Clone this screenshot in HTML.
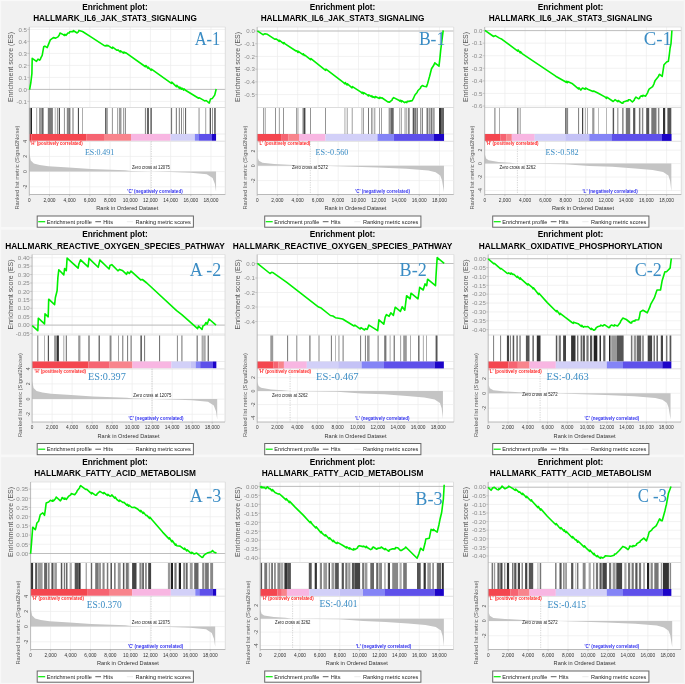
<!DOCTYPE html><html><head><meta charset="utf-8"><style>html,body{margin:0;padding:0;background:#f1f1f1;}svg{display:block;filter:blur(0.25px);}text{font-family:"Liberation Sans", sans-serif;}text.serif{font-family:"Liberation Serif", serif;}</style></head><body>
<svg width="685" height="684" viewBox="0 0 685 684">
<rect x="0" y="0" width="685" height="684" fill="#f1f1f1"/>
<rect x="0" y="227" width="685" height="2.6" fill="#f8f8f8"/>
<rect x="0" y="454.5" width="685" height="2.6" fill="#f8f8f8"/>
<rect x="0" y="0" width="1.2" height="684" fill="#f8f8f8"/>
<rect x="0" y="0" width="685" height="1.1" fill="#f9f9f9"/>
<rect x="0" y="682.9" width="685" height="1.1" fill="#f8f8f8"/>
<rect x="683.6" y="0" width="1.4" height="684" fill="#f6f6f6"/>
<text x="115" y="9.6" text-anchor="middle" font-weight="bold" font-size="8.3" textLength="65.7" lengthAdjust="spacingAndGlyphs" fill="#000">Enrichment plot:</text>
<text x="115" y="21.3" text-anchor="middle" font-weight="bold" font-size="8.3" textLength="163.7" lengthAdjust="spacingAndGlyphs" fill="#000">HALLMARK_IL6_JAK_STAT3_SIGNALING</text>
<rect x="29.3" y="27" width="196" height="167.5" fill="#fff"/>
<line x1="49.49" y1="27" x2="49.49" y2="107.5" stroke="#ececec" stroke-width="0.7"/>
<line x1="49.49" y1="141.3" x2="49.49" y2="194.5" stroke="#ececec" stroke-width="0.7"/>
<line x1="69.68" y1="27" x2="69.68" y2="107.5" stroke="#ececec" stroke-width="0.7"/>
<line x1="69.68" y1="141.3" x2="69.68" y2="194.5" stroke="#ececec" stroke-width="0.7"/>
<line x1="89.87" y1="27" x2="89.87" y2="107.5" stroke="#ececec" stroke-width="0.7"/>
<line x1="89.87" y1="141.3" x2="89.87" y2="194.5" stroke="#ececec" stroke-width="0.7"/>
<line x1="110.06" y1="27" x2="110.06" y2="107.5" stroke="#ececec" stroke-width="0.7"/>
<line x1="110.06" y1="141.3" x2="110.06" y2="194.5" stroke="#ececec" stroke-width="0.7"/>
<line x1="130.24" y1="27" x2="130.24" y2="107.5" stroke="#ececec" stroke-width="0.7"/>
<line x1="130.24" y1="141.3" x2="130.24" y2="194.5" stroke="#ececec" stroke-width="0.7"/>
<line x1="150.43" y1="27" x2="150.43" y2="107.5" stroke="#ececec" stroke-width="0.7"/>
<line x1="150.43" y1="141.3" x2="150.43" y2="194.5" stroke="#ececec" stroke-width="0.7"/>
<line x1="170.62" y1="27" x2="170.62" y2="107.5" stroke="#ececec" stroke-width="0.7"/>
<line x1="170.62" y1="141.3" x2="170.62" y2="194.5" stroke="#ececec" stroke-width="0.7"/>
<line x1="190.81" y1="27" x2="190.81" y2="107.5" stroke="#ececec" stroke-width="0.7"/>
<line x1="190.81" y1="141.3" x2="190.81" y2="194.5" stroke="#ececec" stroke-width="0.7"/>
<line x1="211" y1="27" x2="211" y2="107.5" stroke="#ececec" stroke-width="0.7"/>
<line x1="211" y1="141.3" x2="211" y2="194.5" stroke="#ececec" stroke-width="0.7"/>
<line x1="29.3" y1="29.4" x2="225.3" y2="29.4" stroke="#ececec" stroke-width="0.7"/>
<line x1="27.3" y1="29.4" x2="29.3" y2="29.4" stroke="#b0b0b0" stroke-width="0.6"/>
<text x="26.9" y="31.6" text-anchor="end" font-size="6.1" fill="#8a8a8a">0.5</text>
<line x1="29.3" y1="41.4" x2="225.3" y2="41.4" stroke="#ececec" stroke-width="0.7"/>
<line x1="27.3" y1="41.4" x2="29.3" y2="41.4" stroke="#b0b0b0" stroke-width="0.6"/>
<text x="26.9" y="43.6" text-anchor="end" font-size="6.1" fill="#8a8a8a">0.4</text>
<line x1="29.3" y1="53.4" x2="225.3" y2="53.4" stroke="#ececec" stroke-width="0.7"/>
<line x1="27.3" y1="53.4" x2="29.3" y2="53.4" stroke="#b0b0b0" stroke-width="0.6"/>
<text x="26.9" y="55.6" text-anchor="end" font-size="6.1" fill="#8a8a8a">0.3</text>
<line x1="29.3" y1="65.4" x2="225.3" y2="65.4" stroke="#ececec" stroke-width="0.7"/>
<line x1="27.3" y1="65.4" x2="29.3" y2="65.4" stroke="#b0b0b0" stroke-width="0.6"/>
<text x="26.9" y="67.6" text-anchor="end" font-size="6.1" fill="#8a8a8a">0.2</text>
<line x1="29.3" y1="77.4" x2="225.3" y2="77.4" stroke="#ececec" stroke-width="0.7"/>
<line x1="27.3" y1="77.4" x2="29.3" y2="77.4" stroke="#b0b0b0" stroke-width="0.6"/>
<text x="26.9" y="79.6" text-anchor="end" font-size="6.1" fill="#8a8a8a">0.1</text>
<line x1="29.3" y1="89.4" x2="225.3" y2="89.4" stroke="#ececec" stroke-width="0.7"/>
<line x1="27.3" y1="89.4" x2="29.3" y2="89.4" stroke="#b0b0b0" stroke-width="0.6"/>
<text x="26.9" y="91.6" text-anchor="end" font-size="6.1" fill="#8a8a8a">0.0</text>
<line x1="29.3" y1="101.4" x2="225.3" y2="101.4" stroke="#ececec" stroke-width="0.7"/>
<line x1="27.3" y1="101.4" x2="29.3" y2="101.4" stroke="#b0b0b0" stroke-width="0.6"/>
<text x="26.9" y="103.6" text-anchor="end" font-size="6.1" fill="#8a8a8a">-0.1</text>
<line x1="29.3" y1="89.4" x2="225.3" y2="89.4" stroke="#a8a8a8" stroke-width="0.7"/>
<line x1="29.3" y1="27" x2="225.3" y2="27" stroke="#e0e0e0" stroke-width="0.8"/>
<line x1="225.3" y1="27" x2="225.3" y2="194.5" stroke="#d8d8d8" stroke-width="0.8"/>
<line x1="29.3" y1="107.5" x2="225.3" y2="107.5" stroke="#d4d4d4" stroke-width="0.8"/>
<line x1="29.3" y1="134" x2="225.3" y2="134" stroke="#e0e0e0" stroke-width="0.6"/>
<line x1="29.3" y1="141.3" x2="225.3" y2="141.3" stroke="#d8d8d8" stroke-width="0.8"/>
<rect x="29.2" y="108" width="1.1" height="26" fill="#707070"/>
<rect x="30.5" y="108" width="1.5" height="26" fill="#222"/>
<rect x="36.1" y="108" width="1.1" height="26" fill="#b0b0b0"/>
<rect x="39" y="108" width="3" height="26" fill="#999"/>
<rect x="42" y="108" width="1.6" height="26" fill="#666"/>
<rect x="47.8" y="108" width="5.1" height="26" fill="#7a7a7a"/>
<rect x="54.7" y="108" width="1.1" height="26" fill="#bbb"/>
<rect x="56.9" y="108" width="1.1" height="26" fill="#999"/>
<rect x="58.8" y="108" width="1" height="26" fill="#222"/>
<rect x="63.9" y="108" width="1.1" height="26" fill="#999"/>
<rect x="66.8" y="108" width="1.4" height="26" fill="#888"/>
<rect x="68.2" y="108" width="2.2" height="26" fill="#777"/>
<rect x="72.3" y="108" width="1.4" height="26" fill="#999"/>
<rect x="77.9" y="108" width="0.9" height="26" fill="#222"/>
<rect x="82" y="108" width="0.8" height="26" fill="#999"/>
<rect x="105.1" y="108" width="1.3" height="26" fill="#555"/>
<rect x="106.4" y="108" width="1.3" height="26" fill="#888"/>
<rect x="111.9" y="108" width="0.9" height="26" fill="#888"/>
<rect x="117" y="108" width="1.2" height="26" fill="#aaa"/>
<rect x="119" y="108" width="2.5" height="26" fill="#999"/>
<rect x="123" y="108" width="0.9" height="26" fill="#999"/>
<rect x="124.8" y="108" width="1" height="26" fill="#777"/>
<rect x="144.9" y="108" width="1.2" height="26" fill="#888"/>
<rect x="147.1" y="108" width="1.8" height="26" fill="#555"/>
<rect x="150.4" y="108" width="1.4" height="26" fill="#555"/>
<rect x="170.8" y="108" width="1.3" height="26" fill="#777"/>
<rect x="175.8" y="108" width="1.2" height="26" fill="#888"/>
<rect x="178.8" y="108" width="1.1" height="26" fill="#888"/>
<rect x="181" y="108" width="1" height="26" fill="#888"/>
<rect x="183.2" y="108" width="0.7" height="26" fill="#999"/>
<rect x="185" y="108" width="1.1" height="26" fill="#666"/>
<rect x="198.5" y="108" width="1.1" height="26" fill="#999"/>
<rect x="205.3" y="108" width="0.9" height="26" fill="#999"/>
<rect x="209.7" y="108" width="1.2" height="26" fill="#444"/>
<rect x="212" y="108" width="0.9" height="26" fill="#888"/>
<rect x="214.2" y="108" width="1.5" height="26" fill="#555"/>
<rect x="29.4" y="134" width="2.15" height="6.9" fill="#e02a36"/>
<rect x="31.5" y="134" width="55.05" height="6.9" fill="#f4464f"/>
<rect x="86.5" y="134" width="17.55" height="6.9" fill="#f66472"/>
<rect x="104" y="134" width="27.05" height="6.9" fill="#f8848c"/>
<rect x="131" y="134" width="39.65" height="6.9" fill="#f8b6e2"/>
<rect x="170.6" y="134" width="24.35" height="6.9" fill="#d2d0f8"/>
<rect x="194.9" y="134" width="4.05" height="6.9" fill="#8484f6"/>
<rect x="198.9" y="134" width="13.15" height="6.9" fill="#5e50ea"/>
<rect x="212" y="134" width="4.05" height="6.9" fill="#1c04c8"/>
<line x1="29.3" y1="141.2" x2="225.3" y2="141.2" stroke="#ececec" stroke-width="0.7"/>
<text transform="translate(26.7,141.2) rotate(-90)" text-anchor="middle" font-size="5.2" fill="#555">4</text>
<line x1="29.3" y1="156.4" x2="225.3" y2="156.4" stroke="#ececec" stroke-width="0.7"/>
<text transform="translate(26.7,156.4) rotate(-90)" text-anchor="middle" font-size="5.2" fill="#555">2</text>
<line x1="29.3" y1="171.6" x2="225.3" y2="171.6" stroke="#ececec" stroke-width="0.7"/>
<text transform="translate(26.7,171.6) rotate(-90)" text-anchor="middle" font-size="5.2" fill="#555">0</text>
<line x1="29.3" y1="186.8" x2="225.3" y2="186.8" stroke="#ececec" stroke-width="0.7"/>
<text transform="translate(26.7,186.8) rotate(-90)" text-anchor="middle" font-size="5.2" fill="#555">-2</text>
<polygon points="29.4,171.6 29.4,153.13 30.8,160.43 33.8,163.39 39.6,165.1 48.4,166.28 68.8,167.42 90.7,168.9 125.01,170.2 131,170.99 151.3,171.6 170.31,171.98 190.71,172.82 206.81,174.3 212.61,177.98 214.81,183.76 216.05,191.82 216.05,171.6" fill="#c4c4c4"/>
<line x1="151.3" y1="141.3" x2="151.3" y2="194.5" stroke="#b8b8b8" stroke-width="0.6" stroke-dasharray="1.2,1.2"/>
<text x="132" y="169" font-size="4.6" textLength="38" lengthAdjust="spacingAndGlyphs" fill="#222">Zero cross at 12075</text>
<text x="30.3" y="145" font-size="4.9" font-weight="bold" textLength="52.4" lengthAdjust="spacingAndGlyphs" fill="#ff2a2a">'H' (positively correlated)</text>
<text x="127.3" y="192.7" font-size="4.9" font-weight="bold" textLength="55.4" lengthAdjust="spacingAndGlyphs" fill="#3434f0">'C' (negatively correlated)</text>
<line x1="29.3" y1="27" x2="29.3" y2="194.5" stroke="#a8a8a8" stroke-width="0.8"/>
<line x1="29.3" y1="194.5" x2="225.3" y2="194.5" stroke="#a8a8a8" stroke-width="0.8"/>
<line x1="29.3" y1="194.5" x2="29.3" y2="196.1" stroke="#a8a8a8" stroke-width="0.6"/>
<text x="29.3" y="201.9" text-anchor="middle" font-size="5.4" textLength="2.6" lengthAdjust="spacingAndGlyphs" fill="#333">0</text>
<line x1="49.49" y1="194.5" x2="49.49" y2="196.1" stroke="#a8a8a8" stroke-width="0.6"/>
<text x="49.49" y="201.9" text-anchor="middle" font-size="5.4" textLength="12.2" lengthAdjust="spacingAndGlyphs" fill="#333">2,000</text>
<line x1="69.68" y1="194.5" x2="69.68" y2="196.1" stroke="#a8a8a8" stroke-width="0.6"/>
<text x="69.68" y="201.9" text-anchor="middle" font-size="5.4" textLength="12.2" lengthAdjust="spacingAndGlyphs" fill="#333">4,000</text>
<line x1="89.87" y1="194.5" x2="89.87" y2="196.1" stroke="#a8a8a8" stroke-width="0.6"/>
<text x="89.87" y="201.9" text-anchor="middle" font-size="5.4" textLength="12.2" lengthAdjust="spacingAndGlyphs" fill="#333">6,000</text>
<line x1="110.06" y1="194.5" x2="110.06" y2="196.1" stroke="#a8a8a8" stroke-width="0.6"/>
<text x="110.06" y="201.9" text-anchor="middle" font-size="5.4" textLength="12.2" lengthAdjust="spacingAndGlyphs" fill="#333">8,000</text>
<line x1="130.24" y1="194.5" x2="130.24" y2="196.1" stroke="#a8a8a8" stroke-width="0.6"/>
<text x="130.24" y="201.9" text-anchor="middle" font-size="5.4" textLength="14.8" lengthAdjust="spacingAndGlyphs" fill="#333">10,000</text>
<line x1="150.43" y1="194.5" x2="150.43" y2="196.1" stroke="#a8a8a8" stroke-width="0.6"/>
<text x="150.43" y="201.9" text-anchor="middle" font-size="5.4" textLength="14.8" lengthAdjust="spacingAndGlyphs" fill="#333">12,000</text>
<line x1="170.62" y1="194.5" x2="170.62" y2="196.1" stroke="#a8a8a8" stroke-width="0.6"/>
<text x="170.62" y="201.9" text-anchor="middle" font-size="5.4" textLength="14.8" lengthAdjust="spacingAndGlyphs" fill="#333">14,000</text>
<line x1="190.81" y1="194.5" x2="190.81" y2="196.1" stroke="#a8a8a8" stroke-width="0.6"/>
<text x="190.81" y="201.9" text-anchor="middle" font-size="5.4" textLength="14.8" lengthAdjust="spacingAndGlyphs" fill="#333">16,000</text>
<line x1="211" y1="194.5" x2="211" y2="196.1" stroke="#a8a8a8" stroke-width="0.6"/>
<text x="211" y="201.9" text-anchor="middle" font-size="5.4" textLength="14.8" lengthAdjust="spacingAndGlyphs" fill="#333">18,000</text>
<text x="127.3" y="210.4" text-anchor="middle" font-size="6.0" textLength="62" lengthAdjust="spacingAndGlyphs" fill="#333">Rank in Ordered Dataset</text>
<text transform="translate(12.5,67) rotate(-90)" text-anchor="middle" font-size="6.9" textLength="70" lengthAdjust="spacingAndGlyphs" fill="#555">Enrichment score (ES)</text>
<text transform="translate(18.9,167.5) rotate(-90)" text-anchor="middle" font-size="5.9" textLength="84" lengthAdjust="spacingAndGlyphs" fill="#555">Ranked list metric (Signal2Noise)</text>
<polyline points="29.6,89.7 30.8,82.8 31.9,73.6 32.2,58.3 36.5,61.4 38,59.1 39.6,60.2 40.49,59.1 40.85,57.9 42.2,55.3 43.7,46.8 44.9,46.1 47.2,47.6 50.3,39.9 53.4,37.6 55.7,38.1 58,36.9 59.29,34.97 60,33 63.3,34.6 64.49,35.5 64.85,34.3 66.1,35.3 67.9,33 69.29,32.92 69.65,31.72 71,31.5 72.99,31.77 73.35,30.57 74,31 77.1,33 78.29,31.96 79,30.4 82.5,31.5 90.9,36.9 104.7,45.8 105.79,46.01 106.15,45.23 107.09,46.01 107.8,45.3 112.29,48.35 112.65,47.15 117,50.3 117.95,49.9 120.19,51.98 120.55,50.78 123.49,53.03 123.85,51.95 125,53 125.65,52.59 145.49,66.76 145.85,65.56 147.99,68.36 148.35,67.16 151.09,70.35 151.45,69.15 171.39,83.38 171.75,82.18 176.39,86.59 176.75,85.39 178.6,87.4 179.39,88.32 179.75,87.12 181.49,89.18 181.85,87.98 183.59,90.03 183.95,88.83 185.5,90.2 198.6,98.2 199.45,97.82 204.7,100.9 206.2,100.5 209.3,103.1 210.5,98.9 212.39,98.4 213.1,97.4 214.7,95.1 216.2,89" fill="none" stroke="#00f000" stroke-width="1.6" stroke-linejoin="round"/>
<text x="84.9" y="154.6" class="serif" font-size="8.5" textLength="29.4" lengthAdjust="spacingAndGlyphs" fill="#3a8cc4">ES:0.491</text>
<text x="194.7" y="44.8" class="serif" font-size="17.8" textLength="25.6" lengthAdjust="spacingAndGlyphs" fill="#3a8cc4">A-1</text>
<rect x="37.2" y="216" width="156.2" height="11.2" fill="#fff" stroke="#666" stroke-width="1.0"/>
<line x1="38.2" y1="221.7" x2="45.2" y2="221.7" stroke="#00ee00" stroke-width="1.2"/>
<text x="46.8" y="223.7" font-size="5.7" textLength="45" lengthAdjust="spacingAndGlyphs" fill="#222">Enrichment profile</text>
<line x1="95.3" y1="221.7" x2="101" y2="221.7" stroke="#333" stroke-width="0.8"/>
<text x="103.3" y="223.7" font-size="5.7" textLength="9.7" lengthAdjust="spacingAndGlyphs" fill="#222">Hits</text>
<line x1="126.8" y1="221.7" x2="133" y2="221.7" stroke="#ddd" stroke-width="0.6"/>
<text x="135.6" y="223.7" font-size="5.7" textLength="55.2" lengthAdjust="spacingAndGlyphs" fill="#222">Ranking metric scores</text>
<text x="342.5" y="9.6" text-anchor="middle" font-weight="bold" font-size="8.3" textLength="65.7" lengthAdjust="spacingAndGlyphs" fill="#000">Enrichment plot:</text>
<text x="342.5" y="21.3" text-anchor="middle" font-weight="bold" font-size="8.3" textLength="163.7" lengthAdjust="spacingAndGlyphs" fill="#000">HALLMARK_IL6_JAK_STAT3_SIGNALING</text>
<rect x="257.2" y="27" width="196.5" height="167.5" fill="#fff"/>
<line x1="277.46" y1="27" x2="277.46" y2="107.5" stroke="#ececec" stroke-width="0.7"/>
<line x1="277.46" y1="141.3" x2="277.46" y2="194.5" stroke="#ececec" stroke-width="0.7"/>
<line x1="297.71" y1="27" x2="297.71" y2="107.5" stroke="#ececec" stroke-width="0.7"/>
<line x1="297.71" y1="141.3" x2="297.71" y2="194.5" stroke="#ececec" stroke-width="0.7"/>
<line x1="317.97" y1="27" x2="317.97" y2="107.5" stroke="#ececec" stroke-width="0.7"/>
<line x1="317.97" y1="141.3" x2="317.97" y2="194.5" stroke="#ececec" stroke-width="0.7"/>
<line x1="338.22" y1="27" x2="338.22" y2="107.5" stroke="#ececec" stroke-width="0.7"/>
<line x1="338.22" y1="141.3" x2="338.22" y2="194.5" stroke="#ececec" stroke-width="0.7"/>
<line x1="358.48" y1="27" x2="358.48" y2="107.5" stroke="#ececec" stroke-width="0.7"/>
<line x1="358.48" y1="141.3" x2="358.48" y2="194.5" stroke="#ececec" stroke-width="0.7"/>
<line x1="378.73" y1="27" x2="378.73" y2="107.5" stroke="#ececec" stroke-width="0.7"/>
<line x1="378.73" y1="141.3" x2="378.73" y2="194.5" stroke="#ececec" stroke-width="0.7"/>
<line x1="398.99" y1="27" x2="398.99" y2="107.5" stroke="#ececec" stroke-width="0.7"/>
<line x1="398.99" y1="141.3" x2="398.99" y2="194.5" stroke="#ececec" stroke-width="0.7"/>
<line x1="419.24" y1="27" x2="419.24" y2="107.5" stroke="#ececec" stroke-width="0.7"/>
<line x1="419.24" y1="141.3" x2="419.24" y2="194.5" stroke="#ececec" stroke-width="0.7"/>
<line x1="439.5" y1="27" x2="439.5" y2="107.5" stroke="#ececec" stroke-width="0.7"/>
<line x1="439.5" y1="141.3" x2="439.5" y2="194.5" stroke="#ececec" stroke-width="0.7"/>
<line x1="257.2" y1="31" x2="453.7" y2="31" stroke="#ececec" stroke-width="0.7"/>
<line x1="255.2" y1="31" x2="257.2" y2="31" stroke="#b0b0b0" stroke-width="0.6"/>
<text x="254.8" y="33.2" text-anchor="end" font-size="6.1" fill="#8a8a8a">0.0</text>
<line x1="257.2" y1="43.72" x2="453.7" y2="43.72" stroke="#ececec" stroke-width="0.7"/>
<line x1="255.2" y1="43.72" x2="257.2" y2="43.72" stroke="#b0b0b0" stroke-width="0.6"/>
<text x="254.8" y="45.92" text-anchor="end" font-size="6.1" fill="#8a8a8a">-0.1</text>
<line x1="257.2" y1="56.44" x2="453.7" y2="56.44" stroke="#ececec" stroke-width="0.7"/>
<line x1="255.2" y1="56.44" x2="257.2" y2="56.44" stroke="#b0b0b0" stroke-width="0.6"/>
<text x="254.8" y="58.64" text-anchor="end" font-size="6.1" fill="#8a8a8a">-0.2</text>
<line x1="257.2" y1="69.16" x2="453.7" y2="69.16" stroke="#ececec" stroke-width="0.7"/>
<line x1="255.2" y1="69.16" x2="257.2" y2="69.16" stroke="#b0b0b0" stroke-width="0.6"/>
<text x="254.8" y="71.36" text-anchor="end" font-size="6.1" fill="#8a8a8a">-0.3</text>
<line x1="257.2" y1="81.88" x2="453.7" y2="81.88" stroke="#ececec" stroke-width="0.7"/>
<line x1="255.2" y1="81.88" x2="257.2" y2="81.88" stroke="#b0b0b0" stroke-width="0.6"/>
<text x="254.8" y="84.08" text-anchor="end" font-size="6.1" fill="#8a8a8a">-0.4</text>
<line x1="257.2" y1="94.6" x2="453.7" y2="94.6" stroke="#ececec" stroke-width="0.7"/>
<line x1="255.2" y1="94.6" x2="257.2" y2="94.6" stroke="#b0b0b0" stroke-width="0.6"/>
<text x="254.8" y="96.8" text-anchor="end" font-size="6.1" fill="#8a8a8a">-0.5</text>
<line x1="257.2" y1="31" x2="453.7" y2="31" stroke="#a8a8a8" stroke-width="0.7"/>
<line x1="257.2" y1="27" x2="453.7" y2="27" stroke="#e0e0e0" stroke-width="0.8"/>
<line x1="453.7" y1="27" x2="453.7" y2="194.5" stroke="#d8d8d8" stroke-width="0.8"/>
<line x1="257.2" y1="107.5" x2="453.7" y2="107.5" stroke="#d4d4d4" stroke-width="0.8"/>
<line x1="257.2" y1="134" x2="453.7" y2="134" stroke="#e0e0e0" stroke-width="0.6"/>
<line x1="257.2" y1="141.3" x2="453.7" y2="141.3" stroke="#d8d8d8" stroke-width="0.8"/>
<rect x="263.3" y="108" width="0.7" height="26" fill="#777"/>
<rect x="264.8" y="108" width="0.7" height="26" fill="#777"/>
<rect x="275.2" y="108" width="0.8" height="26" fill="#777"/>
<rect x="278.9" y="108" width="0.7" height="26" fill="#777"/>
<rect x="283.3" y="108" width="0.7" height="26" fill="#666"/>
<rect x="296.1" y="108" width="0.7" height="26" fill="#777"/>
<rect x="297.6" y="108" width="0.7" height="26" fill="#777"/>
<rect x="302.4" y="108" width="1.1" height="26" fill="#999"/>
<rect x="303.5" y="108" width="1.9" height="26" fill="#444"/>
<rect x="310.3" y="108" width="0.7" height="26" fill="#666"/>
<rect x="325.3" y="108" width="0.7" height="26" fill="#666"/>
<rect x="344.6" y="108" width="0.7" height="26" fill="#888"/>
<rect x="346.8" y="108" width="0.7" height="26" fill="#777"/>
<rect x="351.8" y="108" width="0.7" height="26" fill="#777"/>
<rect x="361.6" y="108" width="0.7" height="26" fill="#888"/>
<rect x="363" y="108" width="0.7" height="26" fill="#777"/>
<rect x="368" y="108" width="0.8" height="26" fill="#555"/>
<rect x="371" y="108" width="0.7" height="26" fill="#777"/>
<rect x="372.5" y="108" width="0.7" height="26" fill="#888"/>
<rect x="374.5" y="108" width="0.7" height="26" fill="#666"/>
<rect x="379" y="108" width="0.7" height="26" fill="#777"/>
<rect x="381.1" y="108" width="0.7" height="26" fill="#777"/>
<rect x="388.6" y="108" width="1.9" height="26" fill="#999"/>
<rect x="390.5" y="108" width="3.2" height="26" fill="#666"/>
<rect x="399.5" y="108" width="0.7" height="26" fill="#777"/>
<rect x="401" y="108" width="0.7" height="26" fill="#888"/>
<rect x="404.6" y="108" width="0.9" height="26" fill="#888"/>
<rect x="406.3" y="108" width="0.9" height="26" fill="#999"/>
<rect x="408" y="108" width="1.7" height="26" fill="#888"/>
<rect x="412.7" y="108" width="1.8" height="26" fill="#555"/>
<rect x="414.5" y="108" width="1.5" height="26" fill="#777"/>
<rect x="416.5" y="108" width="1.3" height="26" fill="#666"/>
<rect x="420" y="108" width="0.8" height="26" fill="#888"/>
<rect x="421.7" y="108" width="1.2" height="26" fill="#777"/>
<rect x="426.5" y="108" width="1.5" height="26" fill="#777"/>
<rect x="428.5" y="108" width="1.5" height="26" fill="#999"/>
<rect x="430.5" y="108" width="2" height="26" fill="#777"/>
<rect x="433.2" y="108" width="1.4" height="26" fill="#888"/>
<rect x="439" y="108" width="2" height="26" fill="#333"/>
<rect x="441" y="108" width="3" height="26" fill="#666"/>
<rect x="257.2" y="134" width="23.95" height="6.9" fill="#f4464f"/>
<rect x="281.1" y="134" width="7.45" height="6.9" fill="#f66472"/>
<rect x="288.5" y="134" width="10.55" height="6.9" fill="#f8848c"/>
<rect x="299" y="134" width="26.55" height="6.9" fill="#f8b6e2"/>
<rect x="325.5" y="134" width="52.05" height="6.9" fill="#d2d0f8"/>
<rect x="377.5" y="134" width="16.35" height="6.9" fill="#8484f6"/>
<rect x="393.8" y="134" width="40.25" height="6.9" fill="#5e50ea"/>
<rect x="434" y="134" width="10.05" height="6.9" fill="#1c04c8"/>
<line x1="257.2" y1="151" x2="453.7" y2="151" stroke="#ececec" stroke-width="0.7"/>
<text transform="translate(254.6,151) rotate(-90)" text-anchor="middle" font-size="5.2" fill="#555">2</text>
<line x1="257.2" y1="165.8" x2="453.7" y2="165.8" stroke="#ececec" stroke-width="0.7"/>
<text transform="translate(254.6,165.8) rotate(-90)" text-anchor="middle" font-size="5.2" fill="#555">0</text>
<line x1="257.2" y1="180.6" x2="453.7" y2="180.6" stroke="#ececec" stroke-width="0.7"/>
<text transform="translate(254.6,180.6) rotate(-90)" text-anchor="middle" font-size="5.2" fill="#555">-2</text>
<polygon points="257.8,165.8 257.8,157.73 258.89,160.69 262.49,162.8 274.14,163.9 293.08,165 310.53,165.8 330.17,165.9 377.42,167.4 406.52,168.69 428.36,170.5 435.63,172.31 440.22,175.57 442.01,180.23 443.96,192 443.96,165.8" fill="#c4c4c4"/>
<line x1="310.3" y1="141.3" x2="310.3" y2="194.5" stroke="#b8b8b8" stroke-width="0.6" stroke-dasharray="1.2,1.2"/>
<text x="292" y="169.3" font-size="4.6" textLength="35.8" lengthAdjust="spacingAndGlyphs" fill="#222">Zero cross at 5272</text>
<text x="258.5" y="145.2" font-size="4.9" font-weight="bold" textLength="51.8" lengthAdjust="spacingAndGlyphs" fill="#ff2a2a">'L' (positively correlated)</text>
<text x="355.2" y="192.7" font-size="4.9" font-weight="bold" textLength="54.7" lengthAdjust="spacingAndGlyphs" fill="#3434f0">'C' (negatively correlated)</text>
<line x1="257.2" y1="27" x2="257.2" y2="194.5" stroke="#a8a8a8" stroke-width="0.8"/>
<line x1="257.2" y1="194.5" x2="453.7" y2="194.5" stroke="#a8a8a8" stroke-width="0.8"/>
<line x1="257.2" y1="194.5" x2="257.2" y2="196.1" stroke="#a8a8a8" stroke-width="0.6"/>
<text x="257.2" y="201.9" text-anchor="middle" font-size="5.4" textLength="2.6" lengthAdjust="spacingAndGlyphs" fill="#333">0</text>
<line x1="277.46" y1="194.5" x2="277.46" y2="196.1" stroke="#a8a8a8" stroke-width="0.6"/>
<text x="277.46" y="201.9" text-anchor="middle" font-size="5.4" textLength="12.2" lengthAdjust="spacingAndGlyphs" fill="#333">2,000</text>
<line x1="297.71" y1="194.5" x2="297.71" y2="196.1" stroke="#a8a8a8" stroke-width="0.6"/>
<text x="297.71" y="201.9" text-anchor="middle" font-size="5.4" textLength="12.2" lengthAdjust="spacingAndGlyphs" fill="#333">4,000</text>
<line x1="317.97" y1="194.5" x2="317.97" y2="196.1" stroke="#a8a8a8" stroke-width="0.6"/>
<text x="317.97" y="201.9" text-anchor="middle" font-size="5.4" textLength="12.2" lengthAdjust="spacingAndGlyphs" fill="#333">6,000</text>
<line x1="338.22" y1="194.5" x2="338.22" y2="196.1" stroke="#a8a8a8" stroke-width="0.6"/>
<text x="338.22" y="201.9" text-anchor="middle" font-size="5.4" textLength="12.2" lengthAdjust="spacingAndGlyphs" fill="#333">8,000</text>
<line x1="358.48" y1="194.5" x2="358.48" y2="196.1" stroke="#a8a8a8" stroke-width="0.6"/>
<text x="358.48" y="201.9" text-anchor="middle" font-size="5.4" textLength="14.8" lengthAdjust="spacingAndGlyphs" fill="#333">10,000</text>
<line x1="378.73" y1="194.5" x2="378.73" y2="196.1" stroke="#a8a8a8" stroke-width="0.6"/>
<text x="378.73" y="201.9" text-anchor="middle" font-size="5.4" textLength="14.8" lengthAdjust="spacingAndGlyphs" fill="#333">12,000</text>
<line x1="398.99" y1="194.5" x2="398.99" y2="196.1" stroke="#a8a8a8" stroke-width="0.6"/>
<text x="398.99" y="201.9" text-anchor="middle" font-size="5.4" textLength="14.8" lengthAdjust="spacingAndGlyphs" fill="#333">14,000</text>
<line x1="419.24" y1="194.5" x2="419.24" y2="196.1" stroke="#a8a8a8" stroke-width="0.6"/>
<text x="419.24" y="201.9" text-anchor="middle" font-size="5.4" textLength="14.8" lengthAdjust="spacingAndGlyphs" fill="#333">16,000</text>
<line x1="439.5" y1="194.5" x2="439.5" y2="196.1" stroke="#a8a8a8" stroke-width="0.6"/>
<text x="439.5" y="201.9" text-anchor="middle" font-size="5.4" textLength="14.8" lengthAdjust="spacingAndGlyphs" fill="#333">18,000</text>
<text x="355.45" y="210.4" text-anchor="middle" font-size="6.0" textLength="62" lengthAdjust="spacingAndGlyphs" fill="#333">Rank in Ordered Dataset</text>
<text transform="translate(240,67) rotate(-90)" text-anchor="middle" font-size="6.9" textLength="70" lengthAdjust="spacingAndGlyphs" fill="#555">Enrichment score (ES)</text>
<text transform="translate(246.8,167.5) rotate(-90)" text-anchor="middle" font-size="5.9" textLength="84" lengthAdjust="spacingAndGlyphs" fill="#555">Ranked list metric (Signal2Noise)</text>
<polyline points="257.4,30.9 263.3,34.8 263.95,34.16 264.9,33.8 267.4,34.3 275,39.3 275.95,38.91 278.4,40.5 279.19,41.49 279.55,40.29 283.59,43.66 283.95,42.46 285.1,43.8 296,51 296.85,50.78 297.99,52.53 298.35,51.33 302.89,54.67 303.25,53.77 304.39,55.53 305.2,55.3 310.59,59.73 310.95,58.53 325.59,70.36 325.95,69.16 343,82.1 344.99,83.82 345.35,82.62 347.09,85 347.45,83.8 352.09,87.81 352.45,86.61 361,92.2 361.99,93.07 362.35,92.23 363.39,93.87 363.75,92.67 367.7,95.2 368.39,96 368.75,94.8 371.39,96.72 371.75,95.82 372.89,97.3 373.6,96.9 374.89,97.71 375.25,96.51 379.39,98.43 379.75,97.23 381.1,98.1 381.85,97.73 387.8,101.9 389.59,102.15 390.4,101.4 392.09,100.04 392.45,98.84 393.7,97.6 398.8,100.2 399.89,101.11 400.25,100.21 401.39,101.88 401.75,100.68 404.6,102.6 405.45,101.95 406.79,102.57 407.15,101.37 408.8,101.4 412.2,100.6 413.59,98.22 413.95,97.26 414.7,95.5 415.55,94.17 417.09,92.46 418,90.5 420.39,88.28 420.75,87.14 422.3,85.5 423.9,86.3 426.5,86.8 427.19,84.87 427.55,83.67 429.19,77.63 429.55,76.43 431.5,68.7 433.89,65.01 434.8,62.8 439,66.2 439.99,57.39 440.7,50.2 443.2,30.4" fill="none" stroke="#00f000" stroke-width="1.6" stroke-linejoin="round"/>
<text x="315.6" y="154.8" class="serif" font-size="8.5" textLength="32.8" lengthAdjust="spacingAndGlyphs" fill="#3a8cc4">ES:-0.560</text>
<text x="418.9" y="44.9" class="serif" font-size="17.8" textLength="26.3" lengthAdjust="spacingAndGlyphs" fill="#3a8cc4">B-1</text>
<rect x="264.7" y="216" width="156.2" height="11.2" fill="#fff" stroke="#666" stroke-width="1.0"/>
<line x1="265.7" y1="221.7" x2="272.7" y2="221.7" stroke="#00ee00" stroke-width="1.2"/>
<text x="274.3" y="223.7" font-size="5.7" textLength="45" lengthAdjust="spacingAndGlyphs" fill="#222">Enrichment profile</text>
<line x1="322.8" y1="221.7" x2="328.5" y2="221.7" stroke="#333" stroke-width="0.8"/>
<text x="330.8" y="223.7" font-size="5.7" textLength="9.7" lengthAdjust="spacingAndGlyphs" fill="#222">Hits</text>
<line x1="354.3" y1="221.7" x2="360.5" y2="221.7" stroke="#ddd" stroke-width="0.6"/>
<text x="363.1" y="223.7" font-size="5.7" textLength="55.2" lengthAdjust="spacingAndGlyphs" fill="#222">Ranking metric scores</text>
<text x="570.5" y="9.6" text-anchor="middle" font-weight="bold" font-size="8.3" textLength="65.7" lengthAdjust="spacingAndGlyphs" fill="#000">Enrichment plot:</text>
<text x="570.5" y="21.3" text-anchor="middle" font-weight="bold" font-size="8.3" textLength="163.7" lengthAdjust="spacingAndGlyphs" fill="#000">HALLMARK_IL6_JAK_STAT3_SIGNALING</text>
<rect x="484.7" y="27" width="196.6" height="167.5" fill="#fff"/>
<line x1="504.91" y1="27" x2="504.91" y2="107.5" stroke="#ececec" stroke-width="0.7"/>
<line x1="504.91" y1="141.3" x2="504.91" y2="194.5" stroke="#ececec" stroke-width="0.7"/>
<line x1="525.12" y1="27" x2="525.12" y2="107.5" stroke="#ececec" stroke-width="0.7"/>
<line x1="525.12" y1="141.3" x2="525.12" y2="194.5" stroke="#ececec" stroke-width="0.7"/>
<line x1="545.33" y1="27" x2="545.33" y2="107.5" stroke="#ececec" stroke-width="0.7"/>
<line x1="545.33" y1="141.3" x2="545.33" y2="194.5" stroke="#ececec" stroke-width="0.7"/>
<line x1="565.54" y1="27" x2="565.54" y2="107.5" stroke="#ececec" stroke-width="0.7"/>
<line x1="565.54" y1="141.3" x2="565.54" y2="194.5" stroke="#ececec" stroke-width="0.7"/>
<line x1="585.76" y1="27" x2="585.76" y2="107.5" stroke="#ececec" stroke-width="0.7"/>
<line x1="585.76" y1="141.3" x2="585.76" y2="194.5" stroke="#ececec" stroke-width="0.7"/>
<line x1="605.97" y1="27" x2="605.97" y2="107.5" stroke="#ececec" stroke-width="0.7"/>
<line x1="605.97" y1="141.3" x2="605.97" y2="194.5" stroke="#ececec" stroke-width="0.7"/>
<line x1="626.18" y1="27" x2="626.18" y2="107.5" stroke="#ececec" stroke-width="0.7"/>
<line x1="626.18" y1="141.3" x2="626.18" y2="194.5" stroke="#ececec" stroke-width="0.7"/>
<line x1="646.39" y1="27" x2="646.39" y2="107.5" stroke="#ececec" stroke-width="0.7"/>
<line x1="646.39" y1="141.3" x2="646.39" y2="194.5" stroke="#ececec" stroke-width="0.7"/>
<line x1="666.6" y1="27" x2="666.6" y2="107.5" stroke="#ececec" stroke-width="0.7"/>
<line x1="666.6" y1="141.3" x2="666.6" y2="194.5" stroke="#ececec" stroke-width="0.7"/>
<line x1="484.7" y1="30.6" x2="681.3" y2="30.6" stroke="#ececec" stroke-width="0.7"/>
<line x1="482.7" y1="30.6" x2="484.7" y2="30.6" stroke="#b0b0b0" stroke-width="0.6"/>
<text x="482.3" y="32.8" text-anchor="end" font-size="6.1" fill="#8a8a8a">0.0</text>
<line x1="484.7" y1="43.17" x2="681.3" y2="43.17" stroke="#ececec" stroke-width="0.7"/>
<line x1="482.7" y1="43.17" x2="484.7" y2="43.17" stroke="#b0b0b0" stroke-width="0.6"/>
<text x="482.3" y="45.37" text-anchor="end" font-size="6.1" fill="#8a8a8a">-0.1</text>
<line x1="484.7" y1="55.74" x2="681.3" y2="55.74" stroke="#ececec" stroke-width="0.7"/>
<line x1="482.7" y1="55.74" x2="484.7" y2="55.74" stroke="#b0b0b0" stroke-width="0.6"/>
<text x="482.3" y="57.94" text-anchor="end" font-size="6.1" fill="#8a8a8a">-0.2</text>
<line x1="484.7" y1="68.31" x2="681.3" y2="68.31" stroke="#ececec" stroke-width="0.7"/>
<line x1="482.7" y1="68.31" x2="484.7" y2="68.31" stroke="#b0b0b0" stroke-width="0.6"/>
<text x="482.3" y="70.51" text-anchor="end" font-size="6.1" fill="#8a8a8a">-0.3</text>
<line x1="484.7" y1="80.88" x2="681.3" y2="80.88" stroke="#ececec" stroke-width="0.7"/>
<line x1="482.7" y1="80.88" x2="484.7" y2="80.88" stroke="#b0b0b0" stroke-width="0.6"/>
<text x="482.3" y="83.08" text-anchor="end" font-size="6.1" fill="#8a8a8a">-0.4</text>
<line x1="484.7" y1="93.45" x2="681.3" y2="93.45" stroke="#ececec" stroke-width="0.7"/>
<line x1="482.7" y1="93.45" x2="484.7" y2="93.45" stroke="#b0b0b0" stroke-width="0.6"/>
<text x="482.3" y="95.65" text-anchor="end" font-size="6.1" fill="#8a8a8a">-0.5</text>
<line x1="484.7" y1="106.02" x2="681.3" y2="106.02" stroke="#ececec" stroke-width="0.7"/>
<line x1="482.7" y1="106.02" x2="484.7" y2="106.02" stroke="#b0b0b0" stroke-width="0.6"/>
<text x="482.3" y="108.22" text-anchor="end" font-size="6.1" fill="#8a8a8a">-0.6</text>
<line x1="484.7" y1="30.6" x2="681.3" y2="30.6" stroke="#a8a8a8" stroke-width="0.7"/>
<line x1="484.7" y1="27" x2="681.3" y2="27" stroke="#e0e0e0" stroke-width="0.8"/>
<line x1="681.3" y1="27" x2="681.3" y2="194.5" stroke="#d8d8d8" stroke-width="0.8"/>
<line x1="484.7" y1="107.5" x2="681.3" y2="107.5" stroke="#d4d4d4" stroke-width="0.8"/>
<line x1="484.7" y1="134" x2="681.3" y2="134" stroke="#e0e0e0" stroke-width="0.6"/>
<line x1="484.7" y1="141.3" x2="681.3" y2="141.3" stroke="#d8d8d8" stroke-width="0.8"/>
<rect x="494.4" y="108" width="1" height="26" fill="#777"/>
<rect x="499.2" y="108" width="0.8" height="26" fill="#999"/>
<rect x="517" y="108" width="1.5" height="26" fill="#888"/>
<rect x="519.7" y="108" width="1" height="26" fill="#999"/>
<rect x="565.2" y="108" width="1.3" height="26" fill="#555"/>
<rect x="566.5" y="108" width="1.6" height="26" fill="#888"/>
<rect x="578" y="108" width="1.1" height="26" fill="#888"/>
<rect x="582" y="108" width="1.2" height="26" fill="#444"/>
<rect x="584.9" y="108" width="0.7" height="26" fill="#888"/>
<rect x="587.1" y="108" width="0.7" height="26" fill="#888"/>
<rect x="592.2" y="108" width="2.2" height="26" fill="#999"/>
<rect x="598" y="108" width="0.8" height="26" fill="#aaa"/>
<rect x="606.1" y="108" width="0.7" height="26" fill="#999"/>
<rect x="612.7" y="108" width="1.4" height="26" fill="#555"/>
<rect x="617" y="108" width="1.5" height="26" fill="#aaa"/>
<rect x="622.1" y="108" width="1.5" height="26" fill="#888"/>
<rect x="625.8" y="108" width="4.4" height="26" fill="#777"/>
<rect x="633.1" y="108" width="2.2" height="26" fill="#555"/>
<rect x="638.9" y="108" width="1.5" height="26" fill="#777"/>
<rect x="641.9" y="108" width="1.4" height="26" fill="#888"/>
<rect x="646.2" y="108" width="3" height="26" fill="#555"/>
<rect x="651.3" y="108" width="5.2" height="26" fill="#777"/>
<rect x="657.9" y="108" width="1.5" height="26" fill="#888"/>
<rect x="663" y="108" width="2.2" height="26" fill="#333"/>
<rect x="667.4" y="108" width="3.9" height="26" fill="#555"/>
<rect x="484.7" y="134" width="15.85" height="6.9" fill="#f4464f"/>
<rect x="500.5" y="134" width="5.75" height="6.9" fill="#f66472"/>
<rect x="506.2" y="134" width="5.65" height="6.9" fill="#f8848c"/>
<rect x="511.8" y="134" width="22.95" height="6.9" fill="#f8b6e2"/>
<rect x="534.7" y="134" width="30.55" height="6.9" fill="#d2d0f8"/>
<rect x="565.2" y="134" width="24.15" height="6.9" fill="#c4c2f6"/>
<rect x="589.3" y="134" width="22.65" height="6.9" fill="#8484f6"/>
<rect x="611.9" y="134" width="50.15" height="6.9" fill="#5e50ea"/>
<rect x="662" y="134" width="9.55" height="6.9" fill="#1c04c8"/>
<line x1="484.7" y1="150.16" x2="681.3" y2="150.16" stroke="#ececec" stroke-width="0.7"/>
<text transform="translate(482.1,150.16) rotate(-90)" text-anchor="middle" font-size="5.2" fill="#555">2</text>
<line x1="484.7" y1="163.6" x2="681.3" y2="163.6" stroke="#ececec" stroke-width="0.7"/>
<text transform="translate(482.1,163.6) rotate(-90)" text-anchor="middle" font-size="5.2" fill="#555">0</text>
<line x1="484.7" y1="177.04" x2="681.3" y2="177.04" stroke="#ececec" stroke-width="0.7"/>
<text transform="translate(482.1,177.04) rotate(-90)" text-anchor="middle" font-size="5.2" fill="#555">-2</text>
<line x1="484.7" y1="190.48" x2="681.3" y2="190.48" stroke="#ececec" stroke-width="0.7"/>
<text transform="translate(482.1,190.48) rotate(-90)" text-anchor="middle" font-size="5.2" fill="#555">-4</text>
<polygon points="484.9,163.6 484.9,154.39 486.1,158.56 488.6,160.31 498.6,161.92 510.4,162.73 517.4,163.6 565,164.2 589.49,165.88 612.29,166.83 635.09,168.51 652.59,169.98 663.09,172 668.39,175.49 670.09,180.8 671.35,191.29 671.35,163.6" fill="#c4c4c4"/>
<line x1="517.4" y1="141.3" x2="517.4" y2="194.5" stroke="#b8b8b8" stroke-width="0.6" stroke-dasharray="1.2,1.2"/>
<text x="499.5" y="168.9" font-size="4.6" textLength="36.1" lengthAdjust="spacingAndGlyphs" fill="#222">Zero cross at 3262</text>
<text x="486" y="144.7" font-size="4.9" font-weight="bold" textLength="52.6" lengthAdjust="spacingAndGlyphs" fill="#ff2a2a">'H' (positively correlated)</text>
<text x="582.5" y="192.6" font-size="4.9" font-weight="bold" textLength="55.2" lengthAdjust="spacingAndGlyphs" fill="#3434f0">'L' (negatively correlated)</text>
<line x1="484.7" y1="27" x2="484.7" y2="194.5" stroke="#a8a8a8" stroke-width="0.8"/>
<line x1="484.7" y1="194.5" x2="681.3" y2="194.5" stroke="#a8a8a8" stroke-width="0.8"/>
<line x1="484.7" y1="194.5" x2="484.7" y2="196.1" stroke="#a8a8a8" stroke-width="0.6"/>
<text x="484.7" y="201.9" text-anchor="middle" font-size="5.4" textLength="2.6" lengthAdjust="spacingAndGlyphs" fill="#333">0</text>
<line x1="504.91" y1="194.5" x2="504.91" y2="196.1" stroke="#a8a8a8" stroke-width="0.6"/>
<text x="504.91" y="201.9" text-anchor="middle" font-size="5.4" textLength="12.2" lengthAdjust="spacingAndGlyphs" fill="#333">2,000</text>
<line x1="525.12" y1="194.5" x2="525.12" y2="196.1" stroke="#a8a8a8" stroke-width="0.6"/>
<text x="525.12" y="201.9" text-anchor="middle" font-size="5.4" textLength="12.2" lengthAdjust="spacingAndGlyphs" fill="#333">4,000</text>
<line x1="545.33" y1="194.5" x2="545.33" y2="196.1" stroke="#a8a8a8" stroke-width="0.6"/>
<text x="545.33" y="201.9" text-anchor="middle" font-size="5.4" textLength="12.2" lengthAdjust="spacingAndGlyphs" fill="#333">6,000</text>
<line x1="565.54" y1="194.5" x2="565.54" y2="196.1" stroke="#a8a8a8" stroke-width="0.6"/>
<text x="565.54" y="201.9" text-anchor="middle" font-size="5.4" textLength="12.2" lengthAdjust="spacingAndGlyphs" fill="#333">8,000</text>
<line x1="585.76" y1="194.5" x2="585.76" y2="196.1" stroke="#a8a8a8" stroke-width="0.6"/>
<text x="585.76" y="201.9" text-anchor="middle" font-size="5.4" textLength="14.8" lengthAdjust="spacingAndGlyphs" fill="#333">10,000</text>
<line x1="605.97" y1="194.5" x2="605.97" y2="196.1" stroke="#a8a8a8" stroke-width="0.6"/>
<text x="605.97" y="201.9" text-anchor="middle" font-size="5.4" textLength="14.8" lengthAdjust="spacingAndGlyphs" fill="#333">12,000</text>
<line x1="626.18" y1="194.5" x2="626.18" y2="196.1" stroke="#a8a8a8" stroke-width="0.6"/>
<text x="626.18" y="201.9" text-anchor="middle" font-size="5.4" textLength="14.8" lengthAdjust="spacingAndGlyphs" fill="#333">14,000</text>
<line x1="646.39" y1="194.5" x2="646.39" y2="196.1" stroke="#a8a8a8" stroke-width="0.6"/>
<text x="646.39" y="201.9" text-anchor="middle" font-size="5.4" textLength="14.8" lengthAdjust="spacingAndGlyphs" fill="#333">16,000</text>
<line x1="666.6" y1="194.5" x2="666.6" y2="196.1" stroke="#a8a8a8" stroke-width="0.6"/>
<text x="666.6" y="201.9" text-anchor="middle" font-size="5.4" textLength="14.8" lengthAdjust="spacingAndGlyphs" fill="#333">18,000</text>
<text x="583" y="210.4" text-anchor="middle" font-size="6.0" textLength="62" lengthAdjust="spacingAndGlyphs" fill="#333">Rank in Ordered Dataset</text>
<text transform="translate(468,67) rotate(-90)" text-anchor="middle" font-size="6.9" textLength="70" lengthAdjust="spacingAndGlyphs" fill="#555">Enrichment score (ES)</text>
<text transform="translate(474.3,167.5) rotate(-90)" text-anchor="middle" font-size="5.9" textLength="84" lengthAdjust="spacingAndGlyphs" fill="#555">Ranked list metric (Signal2Noise)</text>
<polyline points="484.9,30.4 493.6,36.5 495.3,35.6 499.5,38.1 502,39.3 517.79,51.14 518.15,49.94 520.19,52.85 520.55,51.65 522.1,53.6 555.7,76.2 565,81.5 565.89,82.16 566.25,81.32 567.29,82.72 567.65,81.52 572,83.4 578.49,88.95 578.85,87.75 580.8,90.1 582.5,88 585.19,89.21 585.55,88.01 587.8,89.2 593,91.5 593.65,91 598.3,93.2 605.3,97.1 606.49,98.37 606.85,97.17 613.2,101.5 615,99.7 617.79,101.72 618.15,100.52 621.9,103.2 622.89,103.28 623.25,102.08 626.3,100.9 627.99,100.92 628.35,99.72 629.8,99.7 632.4,102 634.19,100.15 634.55,98.95 636,97.1 638.6,98.8 639.59,98.21 639.95,97.01 641.2,95.7 642.59,96.46 642.95,95.26 645.6,96.2 647.69,92.6 648.05,91.4 649.1,89.2 652.6,86.6 653.89,84.1 654.25,82.9 655.2,80.4 658.59,76.29 658.95,75.09 659.6,74.3 662.2,76.4 664,64.7 666.6,62 668.4,61.2 669.29,54.81 670.1,48 671,43.7 671.9,30.5" fill="none" stroke="#00f000" stroke-width="1.6" stroke-linejoin="round"/>
<text x="545.6" y="155.2" class="serif" font-size="8.5" textLength="33.1" lengthAdjust="spacingAndGlyphs" fill="#3a8cc4">ES:-0.582</text>
<text x="643.8" y="44.5" class="serif" font-size="17.8" textLength="28.1" lengthAdjust="spacingAndGlyphs" fill="#3a8cc4">C-1</text>
<rect x="492.7" y="216" width="156.2" height="11.2" fill="#fff" stroke="#666" stroke-width="1.0"/>
<line x1="493.7" y1="221.7" x2="500.7" y2="221.7" stroke="#00ee00" stroke-width="1.2"/>
<text x="502.3" y="223.7" font-size="5.7" textLength="45" lengthAdjust="spacingAndGlyphs" fill="#222">Enrichment profile</text>
<line x1="550.8" y1="221.7" x2="556.5" y2="221.7" stroke="#333" stroke-width="0.8"/>
<text x="558.8" y="223.7" font-size="5.7" textLength="9.7" lengthAdjust="spacingAndGlyphs" fill="#222">Hits</text>
<line x1="582.3" y1="221.7" x2="588.5" y2="221.7" stroke="#ddd" stroke-width="0.6"/>
<text x="591.1" y="223.7" font-size="5.7" textLength="55.2" lengthAdjust="spacingAndGlyphs" fill="#222">Ranking metric scores</text>
<text x="115" y="237.1" text-anchor="middle" font-weight="bold" font-size="8.3" textLength="65.7" lengthAdjust="spacingAndGlyphs" fill="#000">Enrichment plot:</text>
<text x="115" y="248.8" text-anchor="middle" font-weight="bold" font-size="8.3" textLength="219.6" lengthAdjust="spacingAndGlyphs" fill="#000">HALLMARK_REACTIVE_OXYGEN_SPECIES_PATHWAY</text>
<rect x="32.1" y="254.5" width="192.9" height="167.5" fill="#fff"/>
<line x1="52.11" y1="254.5" x2="52.11" y2="335" stroke="#ececec" stroke-width="0.7"/>
<line x1="52.11" y1="368.8" x2="52.11" y2="422" stroke="#ececec" stroke-width="0.7"/>
<line x1="72.12" y1="254.5" x2="72.12" y2="335" stroke="#ececec" stroke-width="0.7"/>
<line x1="72.12" y1="368.8" x2="72.12" y2="422" stroke="#ececec" stroke-width="0.7"/>
<line x1="92.13" y1="254.5" x2="92.13" y2="335" stroke="#ececec" stroke-width="0.7"/>
<line x1="92.13" y1="368.8" x2="92.13" y2="422" stroke="#ececec" stroke-width="0.7"/>
<line x1="112.14" y1="254.5" x2="112.14" y2="335" stroke="#ececec" stroke-width="0.7"/>
<line x1="112.14" y1="368.8" x2="112.14" y2="422" stroke="#ececec" stroke-width="0.7"/>
<line x1="132.16" y1="254.5" x2="132.16" y2="335" stroke="#ececec" stroke-width="0.7"/>
<line x1="132.16" y1="368.8" x2="132.16" y2="422" stroke="#ececec" stroke-width="0.7"/>
<line x1="152.17" y1="254.5" x2="152.17" y2="335" stroke="#ececec" stroke-width="0.7"/>
<line x1="152.17" y1="368.8" x2="152.17" y2="422" stroke="#ececec" stroke-width="0.7"/>
<line x1="172.18" y1="254.5" x2="172.18" y2="335" stroke="#ececec" stroke-width="0.7"/>
<line x1="172.18" y1="368.8" x2="172.18" y2="422" stroke="#ececec" stroke-width="0.7"/>
<line x1="192.19" y1="254.5" x2="192.19" y2="335" stroke="#ececec" stroke-width="0.7"/>
<line x1="192.19" y1="368.8" x2="192.19" y2="422" stroke="#ececec" stroke-width="0.7"/>
<line x1="212.2" y1="254.5" x2="212.2" y2="335" stroke="#ececec" stroke-width="0.7"/>
<line x1="212.2" y1="368.8" x2="212.2" y2="422" stroke="#ececec" stroke-width="0.7"/>
<line x1="32.1" y1="257.7" x2="225" y2="257.7" stroke="#ececec" stroke-width="0.7"/>
<line x1="30.1" y1="257.7" x2="32.1" y2="257.7" stroke="#b0b0b0" stroke-width="0.6"/>
<text x="29.7" y="259.9" text-anchor="end" font-size="6.1" fill="#8a8a8a">0.40</text>
<line x1="32.1" y1="266.13" x2="225" y2="266.13" stroke="#ececec" stroke-width="0.7"/>
<line x1="30.1" y1="266.13" x2="32.1" y2="266.13" stroke="#b0b0b0" stroke-width="0.6"/>
<text x="29.7" y="268.33" text-anchor="end" font-size="6.1" fill="#8a8a8a">0.35</text>
<line x1="32.1" y1="274.56" x2="225" y2="274.56" stroke="#ececec" stroke-width="0.7"/>
<line x1="30.1" y1="274.56" x2="32.1" y2="274.56" stroke="#b0b0b0" stroke-width="0.6"/>
<text x="29.7" y="276.76" text-anchor="end" font-size="6.1" fill="#8a8a8a">0.30</text>
<line x1="32.1" y1="282.99" x2="225" y2="282.99" stroke="#ececec" stroke-width="0.7"/>
<line x1="30.1" y1="282.99" x2="32.1" y2="282.99" stroke="#b0b0b0" stroke-width="0.6"/>
<text x="29.7" y="285.19" text-anchor="end" font-size="6.1" fill="#8a8a8a">0.25</text>
<line x1="32.1" y1="291.42" x2="225" y2="291.42" stroke="#ececec" stroke-width="0.7"/>
<line x1="30.1" y1="291.42" x2="32.1" y2="291.42" stroke="#b0b0b0" stroke-width="0.6"/>
<text x="29.7" y="293.62" text-anchor="end" font-size="6.1" fill="#8a8a8a">0.20</text>
<line x1="32.1" y1="299.85" x2="225" y2="299.85" stroke="#ececec" stroke-width="0.7"/>
<line x1="30.1" y1="299.85" x2="32.1" y2="299.85" stroke="#b0b0b0" stroke-width="0.6"/>
<text x="29.7" y="302.05" text-anchor="end" font-size="6.1" fill="#8a8a8a">0.15</text>
<line x1="32.1" y1="308.28" x2="225" y2="308.28" stroke="#ececec" stroke-width="0.7"/>
<line x1="30.1" y1="308.28" x2="32.1" y2="308.28" stroke="#b0b0b0" stroke-width="0.6"/>
<text x="29.7" y="310.48" text-anchor="end" font-size="6.1" fill="#8a8a8a">0.10</text>
<line x1="32.1" y1="316.71" x2="225" y2="316.71" stroke="#ececec" stroke-width="0.7"/>
<line x1="30.1" y1="316.71" x2="32.1" y2="316.71" stroke="#b0b0b0" stroke-width="0.6"/>
<text x="29.7" y="318.91" text-anchor="end" font-size="6.1" fill="#8a8a8a">0.05</text>
<line x1="32.1" y1="325.14" x2="225" y2="325.14" stroke="#ececec" stroke-width="0.7"/>
<line x1="30.1" y1="325.14" x2="32.1" y2="325.14" stroke="#b0b0b0" stroke-width="0.6"/>
<text x="29.7" y="327.34" text-anchor="end" font-size="6.1" fill="#8a8a8a">0.00</text>
<line x1="32.1" y1="333.57" x2="225" y2="333.57" stroke="#ececec" stroke-width="0.7"/>
<line x1="30.1" y1="333.57" x2="32.1" y2="333.57" stroke="#b0b0b0" stroke-width="0.6"/>
<text x="29.7" y="335.77" text-anchor="end" font-size="6.1" fill="#8a8a8a">-0.05</text>
<line x1="32.1" y1="325.1" x2="225" y2="325.1" stroke="#a8a8a8" stroke-width="0.7"/>
<line x1="32.1" y1="254.5" x2="225" y2="254.5" stroke="#e0e0e0" stroke-width="0.8"/>
<line x1="225" y1="254.5" x2="225" y2="422" stroke="#d8d8d8" stroke-width="0.8"/>
<line x1="32.1" y1="335" x2="225" y2="335" stroke="#d4d4d4" stroke-width="0.8"/>
<line x1="32.1" y1="361.5" x2="225" y2="361.5" stroke="#e0e0e0" stroke-width="0.6"/>
<line x1="32.1" y1="368.8" x2="225" y2="368.8" stroke="#d8d8d8" stroke-width="0.8"/>
<rect x="37.3" y="335.5" width="1" height="26" fill="#777"/>
<rect x="44.3" y="335.5" width="0.7" height="26" fill="#999"/>
<rect x="47.8" y="335.5" width="1.2" height="26" fill="#555"/>
<rect x="54.1" y="335.5" width="2.9" height="26" fill="#999"/>
<rect x="57" y="335.5" width="1.9" height="26" fill="#333"/>
<rect x="63.3" y="335.5" width="1" height="26" fill="#aaa"/>
<rect x="65.8" y="335.5" width="1" height="26" fill="#666"/>
<rect x="78.2" y="335.5" width="2.2" height="26" fill="#999"/>
<rect x="88.4" y="335.5" width="1.2" height="26" fill="#666"/>
<rect x="98.6" y="335.5" width="1.2" height="26" fill="#555"/>
<rect x="109.6" y="335.5" width="1.9" height="26" fill="#888"/>
<rect x="118.3" y="335.5" width="0.7" height="26" fill="#777"/>
<rect x="122" y="335.5" width="1.4" height="26" fill="#999"/>
<rect x="127.1" y="335.5" width="1" height="26" fill="#777"/>
<rect x="130.6" y="335.5" width="1" height="26" fill="#666"/>
<rect x="140.4" y="335.5" width="1.5" height="26" fill="#555"/>
<rect x="144.1" y="335.5" width="1" height="26" fill="#777"/>
<rect x="159" y="335.5" width="1.1" height="26" fill="#777"/>
<rect x="176.9" y="335.5" width="1" height="26" fill="#888"/>
<rect x="181.3" y="335.5" width="1.2" height="26" fill="#888"/>
<rect x="196.6" y="335.5" width="1.2" height="26" fill="#777"/>
<rect x="201.7" y="335.5" width="1" height="26" fill="#888"/>
<rect x="203.2" y="335.5" width="2.5" height="26" fill="#aaa"/>
<rect x="207.6" y="335.5" width="1.4" height="26" fill="#777"/>
<rect x="32.1" y="361.5" width="56.35" height="6.9" fill="#f4464f"/>
<rect x="88.4" y="361.5" width="21.25" height="6.9" fill="#f66472"/>
<rect x="109.6" y="361.5" width="22.85" height="6.9" fill="#f8848c"/>
<rect x="132.4" y="361.5" width="39.05" height="6.9" fill="#f8b6e2"/>
<rect x="171.4" y="361.5" width="19.35" height="6.9" fill="#d2d0f8"/>
<rect x="190.7" y="361.5" width="5.05" height="6.9" fill="#c4c2f6"/>
<rect x="195.7" y="361.5" width="4.55" height="6.9" fill="#8484f6"/>
<rect x="200.2" y="361.5" width="12.85" height="6.9" fill="#5e50ea"/>
<rect x="213" y="361.5" width="3.35" height="6.9" fill="#1c04c8"/>
<line x1="32.1" y1="368.7" x2="225" y2="368.7" stroke="#ececec" stroke-width="0.7"/>
<text transform="translate(29.5,368.7) rotate(-90)" text-anchor="middle" font-size="5.2" fill="#555">4</text>
<line x1="32.1" y1="383.9" x2="225" y2="383.9" stroke="#ececec" stroke-width="0.7"/>
<text transform="translate(29.5,383.9) rotate(-90)" text-anchor="middle" font-size="5.2" fill="#555">2</text>
<line x1="32.1" y1="399.1" x2="225" y2="399.1" stroke="#ececec" stroke-width="0.7"/>
<text transform="translate(29.5,399.1) rotate(-90)" text-anchor="middle" font-size="5.2" fill="#555">0</text>
<line x1="32.1" y1="414.3" x2="225" y2="414.3" stroke="#ececec" stroke-width="0.7"/>
<text transform="translate(29.5,414.3) rotate(-90)" text-anchor="middle" font-size="5.2" fill="#555">-2</text>
<polygon points="32.2,399.1 32.2,380.63 33.59,387.93 36.56,390.89 42.31,392.6 51.03,393.78 71.25,394.92 92.96,396.4 126.96,397.7 132.91,398.49 153.03,399.1 171.87,399.48 192.09,400.32 208.05,401.8 213.79,405.48 215.97,411.26 217.2,419.32 217.2,399.1" fill="#c4c4c4"/>
<line x1="152" y1="368.8" x2="152" y2="422" stroke="#b8b8b8" stroke-width="0.6" stroke-dasharray="1.2,1.2"/>
<text x="133.3" y="396.6" font-size="4.6" textLength="38" lengthAdjust="spacingAndGlyphs" fill="#222">Zero cross at 12075</text>
<text x="34.4" y="372.8" font-size="4.9" font-weight="bold" textLength="51.6" lengthAdjust="spacingAndGlyphs" fill="#ff2a2a">'H' (positively correlated)</text>
<text x="128.4" y="419.9" font-size="4.9" font-weight="bold" textLength="55.2" lengthAdjust="spacingAndGlyphs" fill="#3434f0">'C' (negatively correlated)</text>
<line x1="32.1" y1="254.5" x2="32.1" y2="422" stroke="#a8a8a8" stroke-width="0.8"/>
<line x1="32.1" y1="422" x2="225" y2="422" stroke="#a8a8a8" stroke-width="0.8"/>
<line x1="32.1" y1="422" x2="32.1" y2="423.6" stroke="#a8a8a8" stroke-width="0.6"/>
<text x="32.1" y="429.4" text-anchor="middle" font-size="5.4" textLength="2.6" lengthAdjust="spacingAndGlyphs" fill="#333">0</text>
<line x1="52.11" y1="422" x2="52.11" y2="423.6" stroke="#a8a8a8" stroke-width="0.6"/>
<text x="52.11" y="429.4" text-anchor="middle" font-size="5.4" textLength="12.2" lengthAdjust="spacingAndGlyphs" fill="#333">2,000</text>
<line x1="72.12" y1="422" x2="72.12" y2="423.6" stroke="#a8a8a8" stroke-width="0.6"/>
<text x="72.12" y="429.4" text-anchor="middle" font-size="5.4" textLength="12.2" lengthAdjust="spacingAndGlyphs" fill="#333">4,000</text>
<line x1="92.13" y1="422" x2="92.13" y2="423.6" stroke="#a8a8a8" stroke-width="0.6"/>
<text x="92.13" y="429.4" text-anchor="middle" font-size="5.4" textLength="12.2" lengthAdjust="spacingAndGlyphs" fill="#333">6,000</text>
<line x1="112.14" y1="422" x2="112.14" y2="423.6" stroke="#a8a8a8" stroke-width="0.6"/>
<text x="112.14" y="429.4" text-anchor="middle" font-size="5.4" textLength="12.2" lengthAdjust="spacingAndGlyphs" fill="#333">8,000</text>
<line x1="132.16" y1="422" x2="132.16" y2="423.6" stroke="#a8a8a8" stroke-width="0.6"/>
<text x="132.16" y="429.4" text-anchor="middle" font-size="5.4" textLength="14.8" lengthAdjust="spacingAndGlyphs" fill="#333">10,000</text>
<line x1="152.17" y1="422" x2="152.17" y2="423.6" stroke="#a8a8a8" stroke-width="0.6"/>
<text x="152.17" y="429.4" text-anchor="middle" font-size="5.4" textLength="14.8" lengthAdjust="spacingAndGlyphs" fill="#333">12,000</text>
<line x1="172.18" y1="422" x2="172.18" y2="423.6" stroke="#a8a8a8" stroke-width="0.6"/>
<text x="172.18" y="429.4" text-anchor="middle" font-size="5.4" textLength="14.8" lengthAdjust="spacingAndGlyphs" fill="#333">14,000</text>
<line x1="192.19" y1="422" x2="192.19" y2="423.6" stroke="#a8a8a8" stroke-width="0.6"/>
<text x="192.19" y="429.4" text-anchor="middle" font-size="5.4" textLength="14.8" lengthAdjust="spacingAndGlyphs" fill="#333">16,000</text>
<line x1="212.2" y1="422" x2="212.2" y2="423.6" stroke="#a8a8a8" stroke-width="0.6"/>
<text x="212.2" y="429.4" text-anchor="middle" font-size="5.4" textLength="14.8" lengthAdjust="spacingAndGlyphs" fill="#333">18,000</text>
<text x="128.55" y="437.9" text-anchor="middle" font-size="6.0" textLength="62" lengthAdjust="spacingAndGlyphs" fill="#333">Rank in Ordered Dataset</text>
<text transform="translate(12.5,294.5) rotate(-90)" text-anchor="middle" font-size="6.9" textLength="70" lengthAdjust="spacingAndGlyphs" fill="#555">Enrichment score (ES)</text>
<text transform="translate(21.7,395) rotate(-90)" text-anchor="middle" font-size="5.9" textLength="84" lengthAdjust="spacingAndGlyphs" fill="#555">Ranked list metric (Signal2Noise)</text>
<polyline points="32.2,325.6 37.8,330.6 38.3,318.2 44.5,323.9 45,313.8 48.2,316.8 48.7,299.2 54.6,304.7 55.4,297.5 57.1,290.8 57.9,277.4 58.8,269.8 63.8,274.9 64.6,268.5 66.3,270.7 67.1,258.1 78.1,268.1 78.9,264 80.6,259.8 88.1,266.8 89,258.4 98.2,267.3 99.9,260.1 109.1,269 110,265.5 111.8,264.6 117.9,270.8 119.6,269.4 122.3,270.4 126.6,274.3 127.5,272 129.3,273.4 131,271.1 140.7,279.9 142.4,279.5 146.8,283 176.6,310.7 181.8,314.6 197.6,328.6 198.5,326 202,329.5 202.9,326 204.6,325.1 206,322.5 207.2,324.2 209,319 216,325.1" fill="none" stroke="#00f000" stroke-width="1.6" stroke-linejoin="round"/>
<text x="88.1" y="379.8" class="serif" font-size="10.8" textLength="37.7" lengthAdjust="spacingAndGlyphs" fill="#3a8cc4">ES:0.397</text>
<text x="189.7" y="276" class="serif" font-size="17.8" textLength="31.5" lengthAdjust="spacingAndGlyphs" fill="#3a8cc4">A -2</text>
<rect x="37.2" y="443.5" width="156.2" height="11.2" fill="#fff" stroke="#666" stroke-width="1.0"/>
<line x1="38.2" y1="449.2" x2="45.2" y2="449.2" stroke="#00ee00" stroke-width="1.2"/>
<text x="46.8" y="451.2" font-size="5.7" textLength="45" lengthAdjust="spacingAndGlyphs" fill="#222">Enrichment profile</text>
<line x1="95.3" y1="449.2" x2="101" y2="449.2" stroke="#333" stroke-width="0.8"/>
<text x="103.3" y="451.2" font-size="5.7" textLength="9.7" lengthAdjust="spacingAndGlyphs" fill="#222">Hits</text>
<line x1="126.8" y1="449.2" x2="133" y2="449.2" stroke="#ddd" stroke-width="0.6"/>
<text x="135.6" y="451.2" font-size="5.7" textLength="55.2" lengthAdjust="spacingAndGlyphs" fill="#222">Ranking metric scores</text>
<text x="342.5" y="237.1" text-anchor="middle" font-weight="bold" font-size="8.3" textLength="65.7" lengthAdjust="spacingAndGlyphs" fill="#000">Enrichment plot:</text>
<text x="342.5" y="248.8" text-anchor="middle" font-weight="bold" font-size="8.3" textLength="219.6" lengthAdjust="spacingAndGlyphs" fill="#000">HALLMARK_REACTIVE_OXYGEN_SPECIES_PATHWAY</text>
<rect x="257.2" y="254.5" width="196.7" height="167.5" fill="#fff"/>
<line x1="277.31" y1="254.5" x2="277.31" y2="335" stroke="#ececec" stroke-width="0.7"/>
<line x1="277.31" y1="368.8" x2="277.31" y2="422" stroke="#ececec" stroke-width="0.7"/>
<line x1="297.42" y1="254.5" x2="297.42" y2="335" stroke="#ececec" stroke-width="0.7"/>
<line x1="297.42" y1="368.8" x2="297.42" y2="422" stroke="#ececec" stroke-width="0.7"/>
<line x1="317.53" y1="254.5" x2="317.53" y2="335" stroke="#ececec" stroke-width="0.7"/>
<line x1="317.53" y1="368.8" x2="317.53" y2="422" stroke="#ececec" stroke-width="0.7"/>
<line x1="337.64" y1="254.5" x2="337.64" y2="335" stroke="#ececec" stroke-width="0.7"/>
<line x1="337.64" y1="368.8" x2="337.64" y2="422" stroke="#ececec" stroke-width="0.7"/>
<line x1="357.76" y1="254.5" x2="357.76" y2="335" stroke="#ececec" stroke-width="0.7"/>
<line x1="357.76" y1="368.8" x2="357.76" y2="422" stroke="#ececec" stroke-width="0.7"/>
<line x1="377.87" y1="254.5" x2="377.87" y2="335" stroke="#ececec" stroke-width="0.7"/>
<line x1="377.87" y1="368.8" x2="377.87" y2="422" stroke="#ececec" stroke-width="0.7"/>
<line x1="397.98" y1="254.5" x2="397.98" y2="335" stroke="#ececec" stroke-width="0.7"/>
<line x1="397.98" y1="368.8" x2="397.98" y2="422" stroke="#ececec" stroke-width="0.7"/>
<line x1="418.09" y1="254.5" x2="418.09" y2="335" stroke="#ececec" stroke-width="0.7"/>
<line x1="418.09" y1="368.8" x2="418.09" y2="422" stroke="#ececec" stroke-width="0.7"/>
<line x1="438.2" y1="254.5" x2="438.2" y2="335" stroke="#ececec" stroke-width="0.7"/>
<line x1="438.2" y1="368.8" x2="438.2" y2="422" stroke="#ececec" stroke-width="0.7"/>
<line x1="257.2" y1="263.5" x2="453.9" y2="263.5" stroke="#ececec" stroke-width="0.7"/>
<line x1="255.2" y1="263.5" x2="257.2" y2="263.5" stroke="#b0b0b0" stroke-width="0.6"/>
<text x="254.8" y="265.7" text-anchor="end" font-size="6.1" fill="#8a8a8a">0.0</text>
<line x1="257.2" y1="278" x2="453.9" y2="278" stroke="#ececec" stroke-width="0.7"/>
<line x1="255.2" y1="278" x2="257.2" y2="278" stroke="#b0b0b0" stroke-width="0.6"/>
<text x="254.8" y="280.2" text-anchor="end" font-size="6.1" fill="#8a8a8a">-0.1</text>
<line x1="257.2" y1="292.5" x2="453.9" y2="292.5" stroke="#ececec" stroke-width="0.7"/>
<line x1="255.2" y1="292.5" x2="257.2" y2="292.5" stroke="#b0b0b0" stroke-width="0.6"/>
<text x="254.8" y="294.7" text-anchor="end" font-size="6.1" fill="#8a8a8a">-0.2</text>
<line x1="257.2" y1="307" x2="453.9" y2="307" stroke="#ececec" stroke-width="0.7"/>
<line x1="255.2" y1="307" x2="257.2" y2="307" stroke="#b0b0b0" stroke-width="0.6"/>
<text x="254.8" y="309.2" text-anchor="end" font-size="6.1" fill="#8a8a8a">-0.3</text>
<line x1="257.2" y1="321.5" x2="453.9" y2="321.5" stroke="#ececec" stroke-width="0.7"/>
<line x1="255.2" y1="321.5" x2="257.2" y2="321.5" stroke="#b0b0b0" stroke-width="0.6"/>
<text x="254.8" y="323.7" text-anchor="end" font-size="6.1" fill="#8a8a8a">-0.4</text>
<line x1="257.2" y1="263.5" x2="453.9" y2="263.5" stroke="#a8a8a8" stroke-width="0.7"/>
<line x1="257.2" y1="254.5" x2="453.9" y2="254.5" stroke="#e0e0e0" stroke-width="0.8"/>
<line x1="453.9" y1="254.5" x2="453.9" y2="422" stroke="#d8d8d8" stroke-width="0.8"/>
<line x1="257.2" y1="335" x2="453.9" y2="335" stroke="#d4d4d4" stroke-width="0.8"/>
<line x1="257.2" y1="361.5" x2="453.9" y2="361.5" stroke="#e0e0e0" stroke-width="0.6"/>
<line x1="257.2" y1="368.8" x2="453.9" y2="368.8" stroke="#d8d8d8" stroke-width="0.8"/>
<rect x="270.3" y="335.5" width="2.9" height="26" fill="#999"/>
<rect x="287.1" y="335.5" width="1" height="26" fill="#777"/>
<rect x="296.3" y="335.5" width="1" height="26" fill="#888"/>
<rect x="309.3" y="335.5" width="1.2" height="26" fill="#777"/>
<rect x="318.5" y="335.5" width="1" height="26" fill="#888"/>
<rect x="330.9" y="335.5" width="1" height="26" fill="#777"/>
<rect x="335" y="335.5" width="0.7" height="26" fill="#999"/>
<rect x="338.5" y="335.5" width="0.9" height="26" fill="#888"/>
<rect x="342.6" y="335.5" width="1" height="26" fill="#777"/>
<rect x="360.1" y="335.5" width="1" height="26" fill="#777"/>
<rect x="364.9" y="335.5" width="1.1" height="26" fill="#888"/>
<rect x="367" y="335.5" width="2.6" height="26" fill="#999"/>
<rect x="377.6" y="335.5" width="1" height="26" fill="#777"/>
<rect x="384.2" y="335.5" width="2.2" height="26" fill="#777"/>
<rect x="389.7" y="335.5" width="0.8" height="26" fill="#999"/>
<rect x="393.7" y="335.5" width="1" height="26" fill="#555"/>
<rect x="400.3" y="335.5" width="0.8" height="26" fill="#888"/>
<rect x="403.2" y="335.5" width="3.6" height="26" fill="#999"/>
<rect x="410.2" y="335.5" width="0.7" height="26" fill="#888"/>
<rect x="418.1" y="335.5" width="1.4" height="26" fill="#666"/>
<rect x="422.9" y="335.5" width="0.7" height="26" fill="#888"/>
<rect x="426.1" y="335.5" width="0.7" height="26" fill="#888"/>
<rect x="435.6" y="335.5" width="1.9" height="26" fill="#555"/>
<rect x="257.2" y="361.5" width="16.35" height="6.9" fill="#f4464f"/>
<rect x="273.5" y="361.5" width="4.95" height="6.9" fill="#f66472"/>
<rect x="278.4" y="361.5" width="5.55" height="6.9" fill="#f8848c"/>
<rect x="283.9" y="361.5" width="22.95" height="6.9" fill="#f8b6e2"/>
<rect x="306.8" y="361.5" width="31.45" height="6.9" fill="#d2d0f8"/>
<rect x="338.2" y="361.5" width="23.45" height="6.9" fill="#c4c2f6"/>
<rect x="361.6" y="361.5" width="22.35" height="6.9" fill="#8484f6"/>
<rect x="383.9" y="361.5" width="50.75" height="6.9" fill="#5e50ea"/>
<rect x="434.6" y="361.5" width="9.25" height="6.9" fill="#1c04c8"/>
<line x1="257.2" y1="377.66" x2="453.9" y2="377.66" stroke="#ececec" stroke-width="0.7"/>
<text transform="translate(254.6,377.66) rotate(-90)" text-anchor="middle" font-size="5.2" fill="#555">2</text>
<line x1="257.2" y1="391.1" x2="453.9" y2="391.1" stroke="#ececec" stroke-width="0.7"/>
<text transform="translate(254.6,391.1) rotate(-90)" text-anchor="middle" font-size="5.2" fill="#555">0</text>
<line x1="257.2" y1="404.54" x2="453.9" y2="404.54" stroke="#ececec" stroke-width="0.7"/>
<text transform="translate(254.6,404.54) rotate(-90)" text-anchor="middle" font-size="5.2" fill="#555">-2</text>
<line x1="257.2" y1="417.98" x2="453.9" y2="417.98" stroke="#ececec" stroke-width="0.7"/>
<text transform="translate(254.6,417.98) rotate(-90)" text-anchor="middle" font-size="5.2" fill="#555">-4</text>
<polygon points="257.4,391.1 257.4,381.89 258.6,386.06 261.08,387.81 271.03,389.42 282.77,390.23 289.74,391.1 337.1,391.7 361.48,393.38 384.16,394.33 406.85,396.01 424.26,397.48 434.71,399.5 439.98,402.99 441.67,408.3 442.93,418.79 442.93,391.1" fill="#c4c4c4"/>
<line x1="290.1" y1="368.8" x2="290.1" y2="422" stroke="#b8b8b8" stroke-width="0.6" stroke-dasharray="1.2,1.2"/>
<text x="272" y="396.9" font-size="4.6" textLength="35.7" lengthAdjust="spacingAndGlyphs" fill="#222">Zero cross at 3262</text>
<text x="258.7" y="372.7" font-size="4.9" font-weight="bold" textLength="52.4" lengthAdjust="spacingAndGlyphs" fill="#ff2a2a">'H' (positively correlated)</text>
<text x="355.1" y="420.2" font-size="4.9" font-weight="bold" textLength="54.5" lengthAdjust="spacingAndGlyphs" fill="#3434f0">'L' (negatively correlated)</text>
<line x1="257.2" y1="254.5" x2="257.2" y2="422" stroke="#a8a8a8" stroke-width="0.8"/>
<line x1="257.2" y1="422" x2="453.9" y2="422" stroke="#a8a8a8" stroke-width="0.8"/>
<line x1="257.2" y1="422" x2="257.2" y2="423.6" stroke="#a8a8a8" stroke-width="0.6"/>
<text x="257.2" y="429.4" text-anchor="middle" font-size="5.4" textLength="2.6" lengthAdjust="spacingAndGlyphs" fill="#333">0</text>
<line x1="277.31" y1="422" x2="277.31" y2="423.6" stroke="#a8a8a8" stroke-width="0.6"/>
<text x="277.31" y="429.4" text-anchor="middle" font-size="5.4" textLength="12.2" lengthAdjust="spacingAndGlyphs" fill="#333">2,000</text>
<line x1="297.42" y1="422" x2="297.42" y2="423.6" stroke="#a8a8a8" stroke-width="0.6"/>
<text x="297.42" y="429.4" text-anchor="middle" font-size="5.4" textLength="12.2" lengthAdjust="spacingAndGlyphs" fill="#333">4,000</text>
<line x1="317.53" y1="422" x2="317.53" y2="423.6" stroke="#a8a8a8" stroke-width="0.6"/>
<text x="317.53" y="429.4" text-anchor="middle" font-size="5.4" textLength="12.2" lengthAdjust="spacingAndGlyphs" fill="#333">6,000</text>
<line x1="337.64" y1="422" x2="337.64" y2="423.6" stroke="#a8a8a8" stroke-width="0.6"/>
<text x="337.64" y="429.4" text-anchor="middle" font-size="5.4" textLength="12.2" lengthAdjust="spacingAndGlyphs" fill="#333">8,000</text>
<line x1="357.76" y1="422" x2="357.76" y2="423.6" stroke="#a8a8a8" stroke-width="0.6"/>
<text x="357.76" y="429.4" text-anchor="middle" font-size="5.4" textLength="14.8" lengthAdjust="spacingAndGlyphs" fill="#333">10,000</text>
<line x1="377.87" y1="422" x2="377.87" y2="423.6" stroke="#a8a8a8" stroke-width="0.6"/>
<text x="377.87" y="429.4" text-anchor="middle" font-size="5.4" textLength="14.8" lengthAdjust="spacingAndGlyphs" fill="#333">12,000</text>
<line x1="397.98" y1="422" x2="397.98" y2="423.6" stroke="#a8a8a8" stroke-width="0.6"/>
<text x="397.98" y="429.4" text-anchor="middle" font-size="5.4" textLength="14.8" lengthAdjust="spacingAndGlyphs" fill="#333">14,000</text>
<line x1="418.09" y1="422" x2="418.09" y2="423.6" stroke="#a8a8a8" stroke-width="0.6"/>
<text x="418.09" y="429.4" text-anchor="middle" font-size="5.4" textLength="14.8" lengthAdjust="spacingAndGlyphs" fill="#333">16,000</text>
<line x1="438.2" y1="422" x2="438.2" y2="423.6" stroke="#a8a8a8" stroke-width="0.6"/>
<text x="438.2" y="429.4" text-anchor="middle" font-size="5.4" textLength="14.8" lengthAdjust="spacingAndGlyphs" fill="#333">18,000</text>
<text x="355.55" y="437.9" text-anchor="middle" font-size="6.0" textLength="62" lengthAdjust="spacingAndGlyphs" fill="#333">Rank in Ordered Dataset</text>
<text transform="translate(240,294.5) rotate(-90)" text-anchor="middle" font-size="6.9" textLength="70" lengthAdjust="spacingAndGlyphs" fill="#555">Enrichment score (ES)</text>
<text transform="translate(246.8,395) rotate(-90)" text-anchor="middle" font-size="5.9" textLength="84" lengthAdjust="spacingAndGlyphs" fill="#555">Ranked list metric (Signal2Noise)</text>
<polyline points="257.4,263.4 270,273.5 271.6,272.3 273.3,272.8 286.8,282.4 318.6,307.1 321.2,308.1 330.4,315.5 332.9,316 335.4,317.7 338.8,318.2 342.6,319 354,326 354.9,325.1 360.1,328.9 361,327.7 364.5,330 365.4,328.6 367.2,329.5 368.9,325.1 377.7,330.7 378.9,319.8 383.8,324.2 385.2,317.2 386.4,314.6 389.1,316.3 390.8,312.8 393.4,315.4 395.2,307.2 400.4,311.4 402.2,306.7 404.8,310.2 406.6,295.7 410.1,298.8 411,293.2 418,298.8 419.7,287.4 423.2,290 425,283.9 426.7,285.7 427.6,279.2 435.5,285.7 436,276 436.7,264.6 437.2,257.6 444.2,263.4" fill="none" stroke="#00f000" stroke-width="1.6" stroke-linejoin="round"/>
<text x="316.1" y="379.8" class="serif" font-size="10.8" textLength="42.4" lengthAdjust="spacingAndGlyphs" fill="#3a8cc4">ES:-0.467</text>
<text x="399.6" y="276" class="serif" font-size="17.8" textLength="27.1" lengthAdjust="spacingAndGlyphs" fill="#3a8cc4">B-2</text>
<rect x="264.7" y="443.5" width="156.2" height="11.2" fill="#fff" stroke="#666" stroke-width="1.0"/>
<line x1="265.7" y1="449.2" x2="272.7" y2="449.2" stroke="#00ee00" stroke-width="1.2"/>
<text x="274.3" y="451.2" font-size="5.7" textLength="45" lengthAdjust="spacingAndGlyphs" fill="#222">Enrichment profile</text>
<line x1="322.8" y1="449.2" x2="328.5" y2="449.2" stroke="#333" stroke-width="0.8"/>
<text x="330.8" y="451.2" font-size="5.7" textLength="9.7" lengthAdjust="spacingAndGlyphs" fill="#222">Hits</text>
<line x1="354.3" y1="449.2" x2="360.5" y2="449.2" stroke="#ddd" stroke-width="0.6"/>
<text x="363.1" y="451.2" font-size="5.7" textLength="55.2" lengthAdjust="spacingAndGlyphs" fill="#222">Ranking metric scores</text>
<text x="570.5" y="237.1" text-anchor="middle" font-weight="bold" font-size="8.3" textLength="65.7" lengthAdjust="spacingAndGlyphs" fill="#000">Enrichment plot:</text>
<text x="570.5" y="248.8" text-anchor="middle" font-weight="bold" font-size="8.3" textLength="183.6" lengthAdjust="spacingAndGlyphs" fill="#000">HALLMARK_OXIDATIVE_PHOSPHORYLATION</text>
<rect x="488.2" y="254.5" width="192.8" height="167.5" fill="#fff"/>
<line x1="507.98" y1="254.5" x2="507.98" y2="335" stroke="#ececec" stroke-width="0.7"/>
<line x1="507.98" y1="368.8" x2="507.98" y2="422" stroke="#ececec" stroke-width="0.7"/>
<line x1="527.76" y1="254.5" x2="527.76" y2="335" stroke="#ececec" stroke-width="0.7"/>
<line x1="527.76" y1="368.8" x2="527.76" y2="422" stroke="#ececec" stroke-width="0.7"/>
<line x1="547.53" y1="254.5" x2="547.53" y2="335" stroke="#ececec" stroke-width="0.7"/>
<line x1="547.53" y1="368.8" x2="547.53" y2="422" stroke="#ececec" stroke-width="0.7"/>
<line x1="567.31" y1="254.5" x2="567.31" y2="335" stroke="#ececec" stroke-width="0.7"/>
<line x1="567.31" y1="368.8" x2="567.31" y2="422" stroke="#ececec" stroke-width="0.7"/>
<line x1="587.09" y1="254.5" x2="587.09" y2="335" stroke="#ececec" stroke-width="0.7"/>
<line x1="587.09" y1="368.8" x2="587.09" y2="422" stroke="#ececec" stroke-width="0.7"/>
<line x1="606.87" y1="254.5" x2="606.87" y2="335" stroke="#ececec" stroke-width="0.7"/>
<line x1="606.87" y1="368.8" x2="606.87" y2="422" stroke="#ececec" stroke-width="0.7"/>
<line x1="626.64" y1="254.5" x2="626.64" y2="335" stroke="#ececec" stroke-width="0.7"/>
<line x1="626.64" y1="368.8" x2="626.64" y2="422" stroke="#ececec" stroke-width="0.7"/>
<line x1="646.42" y1="254.5" x2="646.42" y2="335" stroke="#ececec" stroke-width="0.7"/>
<line x1="646.42" y1="368.8" x2="646.42" y2="422" stroke="#ececec" stroke-width="0.7"/>
<line x1="666.2" y1="254.5" x2="666.2" y2="335" stroke="#ececec" stroke-width="0.7"/>
<line x1="666.2" y1="368.8" x2="666.2" y2="422" stroke="#ececec" stroke-width="0.7"/>
<line x1="488.2" y1="258.7" x2="681" y2="258.7" stroke="#ececec" stroke-width="0.7"/>
<line x1="486.2" y1="258.7" x2="488.2" y2="258.7" stroke="#b0b0b0" stroke-width="0.6"/>
<text x="485.8" y="260.9" text-anchor="end" font-size="6.1" fill="#8a8a8a">0.00</text>
<line x1="488.2" y1="267.57" x2="681" y2="267.57" stroke="#ececec" stroke-width="0.7"/>
<line x1="486.2" y1="267.57" x2="488.2" y2="267.57" stroke="#b0b0b0" stroke-width="0.6"/>
<text x="485.8" y="269.77" text-anchor="end" font-size="6.1" fill="#8a8a8a">-0.05</text>
<line x1="488.2" y1="276.44" x2="681" y2="276.44" stroke="#ececec" stroke-width="0.7"/>
<line x1="486.2" y1="276.44" x2="488.2" y2="276.44" stroke="#b0b0b0" stroke-width="0.6"/>
<text x="485.8" y="278.64" text-anchor="end" font-size="6.1" fill="#8a8a8a">-0.10</text>
<line x1="488.2" y1="285.31" x2="681" y2="285.31" stroke="#ececec" stroke-width="0.7"/>
<line x1="486.2" y1="285.31" x2="488.2" y2="285.31" stroke="#b0b0b0" stroke-width="0.6"/>
<text x="485.8" y="287.51" text-anchor="end" font-size="6.1" fill="#8a8a8a">-0.15</text>
<line x1="488.2" y1="294.18" x2="681" y2="294.18" stroke="#ececec" stroke-width="0.7"/>
<line x1="486.2" y1="294.18" x2="488.2" y2="294.18" stroke="#b0b0b0" stroke-width="0.6"/>
<text x="485.8" y="296.38" text-anchor="end" font-size="6.1" fill="#8a8a8a">-0.20</text>
<line x1="488.2" y1="303.05" x2="681" y2="303.05" stroke="#ececec" stroke-width="0.7"/>
<line x1="486.2" y1="303.05" x2="488.2" y2="303.05" stroke="#b0b0b0" stroke-width="0.6"/>
<text x="485.8" y="305.25" text-anchor="end" font-size="6.1" fill="#8a8a8a">-0.25</text>
<line x1="488.2" y1="311.92" x2="681" y2="311.92" stroke="#ececec" stroke-width="0.7"/>
<line x1="486.2" y1="311.92" x2="488.2" y2="311.92" stroke="#b0b0b0" stroke-width="0.6"/>
<text x="485.8" y="314.12" text-anchor="end" font-size="6.1" fill="#8a8a8a">-0.30</text>
<line x1="488.2" y1="320.79" x2="681" y2="320.79" stroke="#ececec" stroke-width="0.7"/>
<line x1="486.2" y1="320.79" x2="488.2" y2="320.79" stroke="#b0b0b0" stroke-width="0.6"/>
<text x="485.8" y="322.99" text-anchor="end" font-size="6.1" fill="#8a8a8a">-0.35</text>
<line x1="488.2" y1="329.66" x2="681" y2="329.66" stroke="#ececec" stroke-width="0.7"/>
<line x1="486.2" y1="329.66" x2="488.2" y2="329.66" stroke="#b0b0b0" stroke-width="0.6"/>
<text x="485.8" y="331.86" text-anchor="end" font-size="6.1" fill="#8a8a8a">-0.40</text>
<line x1="488.2" y1="258.7" x2="681" y2="258.7" stroke="#a8a8a8" stroke-width="0.7"/>
<line x1="488.2" y1="254.5" x2="681" y2="254.5" stroke="#e0e0e0" stroke-width="0.8"/>
<line x1="681" y1="254.5" x2="681" y2="422" stroke="#d8d8d8" stroke-width="0.8"/>
<line x1="488.2" y1="335" x2="681" y2="335" stroke="#d4d4d4" stroke-width="0.8"/>
<line x1="488.2" y1="361.5" x2="681" y2="361.5" stroke="#e0e0e0" stroke-width="0.6"/>
<line x1="488.2" y1="368.8" x2="681" y2="368.8" stroke="#d8d8d8" stroke-width="0.8"/>
<rect x="493" y="335.5" width="1.1" height="26" fill="#888"/>
<rect x="500" y="335.5" width="1.1" height="26" fill="#888"/>
<rect x="506.9" y="335.5" width="2.2" height="26" fill="#444"/>
<rect x="510.1" y="335.5" width="0.9" height="26" fill="#777"/>
<rect x="512.7" y="335.5" width="1.5" height="26" fill="#555"/>
<rect x="516.4" y="335.5" width="1.4" height="26" fill="#666"/>
<rect x="519.3" y="335.5" width="1.5" height="26" fill="#888"/>
<rect x="525.9" y="335.5" width="3.6" height="26" fill="#555"/>
<rect x="532.4" y="335.5" width="1.5" height="26" fill="#666"/>
<rect x="536.8" y="335.5" width="3.7" height="26" fill="#333"/>
<rect x="555.8" y="335.5" width="1.5" height="26" fill="#555"/>
<rect x="558.7" y="335.5" width="2.2" height="26" fill="#777"/>
<rect x="563.1" y="335.5" width="2.9" height="26" fill="#444"/>
<rect x="571.1" y="335.5" width="4.4" height="26" fill="#333"/>
<rect x="577" y="335.5" width="1.4" height="26" fill="#777"/>
<rect x="580.6" y="335.5" width="1.5" height="26" fill="#666"/>
<rect x="582.7" y="335.5" width="2.2" height="26" fill="#555"/>
<rect x="586.4" y="335.5" width="2.2" height="26" fill="#777"/>
<rect x="590" y="335.5" width="2.2" height="26" fill="#555"/>
<rect x="593.7" y="335.5" width="3.6" height="26" fill="#222"/>
<rect x="599.5" y="335.5" width="1.5" height="26" fill="#333"/>
<rect x="603.2" y="335.5" width="2.2" height="26" fill="#666"/>
<rect x="609" y="335.5" width="1.5" height="26" fill="#222"/>
<rect x="611.2" y="335.5" width="5.8" height="26" fill="#999"/>
<rect x="617" y="335.5" width="6.6" height="26" fill="#555"/>
<rect x="630.9" y="335.5" width="1.5" height="26" fill="#777"/>
<rect x="633.8" y="335.5" width="2.2" height="26" fill="#999"/>
<rect x="636.7" y="335.5" width="4.4" height="26" fill="#666"/>
<rect x="641.9" y="335.5" width="2.1" height="26" fill="#999"/>
<rect x="647.7" y="335.5" width="4.4" height="26" fill="#444"/>
<rect x="653.5" y="335.5" width="1.5" height="26" fill="#777"/>
<rect x="656.5" y="335.5" width="1.4" height="26" fill="#555"/>
<rect x="660.8" y="335.5" width="2.2" height="26" fill="#444"/>
<rect x="665.9" y="335.5" width="1.5" height="26" fill="#777"/>
<rect x="669.6" y="335.5" width="1.7" height="26" fill="#555"/>
<rect x="488.2" y="361.5" width="20.25" height="6.9" fill="#f4464f"/>
<rect x="508.4" y="361.5" width="9.45" height="6.9" fill="#f66472"/>
<rect x="517.8" y="361.5" width="11.75" height="6.9" fill="#f8848c"/>
<rect x="529.5" y="361.5" width="26.35" height="6.9" fill="#f8b6e2"/>
<rect x="555.8" y="361.5" width="51.05" height="6.9" fill="#d2d0f8"/>
<rect x="606.8" y="361.5" width="16.15" height="6.9" fill="#8484f6"/>
<rect x="622.9" y="361.5" width="39.45" height="6.9" fill="#5e50ea"/>
<rect x="662.3" y="361.5" width="9.05" height="6.9" fill="#1c04c8"/>
<line x1="488.2" y1="378.5" x2="681" y2="378.5" stroke="#ececec" stroke-width="0.7"/>
<text transform="translate(485.6,378.5) rotate(-90)" text-anchor="middle" font-size="5.2" fill="#555">2</text>
<line x1="488.2" y1="393.3" x2="681" y2="393.3" stroke="#ececec" stroke-width="0.7"/>
<text transform="translate(485.6,393.3) rotate(-90)" text-anchor="middle" font-size="5.2" fill="#555">0</text>
<line x1="488.2" y1="408.1" x2="681" y2="408.1" stroke="#ececec" stroke-width="0.7"/>
<text transform="translate(485.6,408.1) rotate(-90)" text-anchor="middle" font-size="5.2" fill="#555">-2</text>
<polygon points="488.78,393.3 488.78,385.23 489.85,388.19 493.36,390.3 504.74,391.4 523.24,392.5 540.27,393.3 559.45,393.4 605.58,394.9 634,396.19 655.32,398 662.42,399.81 666.9,403.07 668.65,407.73 670.55,419.5 670.55,393.3" fill="#c4c4c4"/>
<line x1="540.1" y1="368.8" x2="540.1" y2="422" stroke="#b8b8b8" stroke-width="0.6" stroke-dasharray="1.2,1.2"/>
<text x="522.2" y="396" font-size="4.6" textLength="35.4" lengthAdjust="spacingAndGlyphs" fill="#222">Zero cross at 5272</text>
<text x="488.6" y="372.5" font-size="4.9" font-weight="bold" textLength="53.2" lengthAdjust="spacingAndGlyphs" fill="#ff2a2a">'L' (positively correlated)</text>
<text x="584.5" y="420.2" font-size="4.9" font-weight="bold" textLength="54.8" lengthAdjust="spacingAndGlyphs" fill="#3434f0">'C' (negatively correlated)</text>
<line x1="488.2" y1="254.5" x2="488.2" y2="422" stroke="#a8a8a8" stroke-width="0.8"/>
<line x1="488.2" y1="422" x2="681" y2="422" stroke="#a8a8a8" stroke-width="0.8"/>
<line x1="488.2" y1="422" x2="488.2" y2="423.6" stroke="#a8a8a8" stroke-width="0.6"/>
<text x="488.2" y="429.4" text-anchor="middle" font-size="5.4" textLength="2.6" lengthAdjust="spacingAndGlyphs" fill="#333">0</text>
<line x1="507.98" y1="422" x2="507.98" y2="423.6" stroke="#a8a8a8" stroke-width="0.6"/>
<text x="507.98" y="429.4" text-anchor="middle" font-size="5.4" textLength="12.2" lengthAdjust="spacingAndGlyphs" fill="#333">2,000</text>
<line x1="527.76" y1="422" x2="527.76" y2="423.6" stroke="#a8a8a8" stroke-width="0.6"/>
<text x="527.76" y="429.4" text-anchor="middle" font-size="5.4" textLength="12.2" lengthAdjust="spacingAndGlyphs" fill="#333">4,000</text>
<line x1="547.53" y1="422" x2="547.53" y2="423.6" stroke="#a8a8a8" stroke-width="0.6"/>
<text x="547.53" y="429.4" text-anchor="middle" font-size="5.4" textLength="12.2" lengthAdjust="spacingAndGlyphs" fill="#333">6,000</text>
<line x1="567.31" y1="422" x2="567.31" y2="423.6" stroke="#a8a8a8" stroke-width="0.6"/>
<text x="567.31" y="429.4" text-anchor="middle" font-size="5.4" textLength="12.2" lengthAdjust="spacingAndGlyphs" fill="#333">8,000</text>
<line x1="587.09" y1="422" x2="587.09" y2="423.6" stroke="#a8a8a8" stroke-width="0.6"/>
<text x="587.09" y="429.4" text-anchor="middle" font-size="5.4" textLength="14.8" lengthAdjust="spacingAndGlyphs" fill="#333">10,000</text>
<line x1="606.87" y1="422" x2="606.87" y2="423.6" stroke="#a8a8a8" stroke-width="0.6"/>
<text x="606.87" y="429.4" text-anchor="middle" font-size="5.4" textLength="14.8" lengthAdjust="spacingAndGlyphs" fill="#333">12,000</text>
<line x1="626.64" y1="422" x2="626.64" y2="423.6" stroke="#a8a8a8" stroke-width="0.6"/>
<text x="626.64" y="429.4" text-anchor="middle" font-size="5.4" textLength="14.8" lengthAdjust="spacingAndGlyphs" fill="#333">14,000</text>
<line x1="646.42" y1="422" x2="646.42" y2="423.6" stroke="#a8a8a8" stroke-width="0.6"/>
<text x="646.42" y="429.4" text-anchor="middle" font-size="5.4" textLength="14.8" lengthAdjust="spacingAndGlyphs" fill="#333">16,000</text>
<line x1="666.2" y1="422" x2="666.2" y2="423.6" stroke="#a8a8a8" stroke-width="0.6"/>
<text x="666.2" y="429.4" text-anchor="middle" font-size="5.4" textLength="14.8" lengthAdjust="spacingAndGlyphs" fill="#333">18,000</text>
<text x="584.6" y="437.9" text-anchor="middle" font-size="6.0" textLength="62" lengthAdjust="spacingAndGlyphs" fill="#333">Rank in Ordered Dataset</text>
<text transform="translate(468,294.5) rotate(-90)" text-anchor="middle" font-size="6.9" textLength="70" lengthAdjust="spacingAndGlyphs" fill="#555">Enrichment score (ES)</text>
<text transform="translate(477.8,395) rotate(-90)" text-anchor="middle" font-size="5.9" textLength="84" lengthAdjust="spacingAndGlyphs" fill="#555">Ranked list metric (Signal2Noise)</text>
<polyline points="488.2,258.9 492.8,262.8 493.59,263.7 494.4,263.4 499.5,267.8 500.59,268.85 501.2,268.5 507,273.2 507.99,273.56 508.7,272.8 510.59,274.17 510.95,272.97 512.9,274.5 513.85,274.25 517.09,277.52 517.45,276.32 518.8,277.9 519.99,279.08 520.35,277.88 521.3,279.1 525.5,282.9 527.69,284.98 528.05,283.78 532.2,287.4 533.09,288.91 533.45,287.71 538.59,294.44 538.95,293.24 547.3,302.6 556.49,311.7 556.85,310.5 559.1,313.5 559.79,314.54 560.15,313.34 565,317.2 572,322.5 573.29,323.36 573.65,322.16 578.1,323.7 581.39,326.48 581.75,325.28 583.4,327.2 584.15,326.55 586.9,326.8 587.85,326.5 591.09,329.5 591.45,328.3 593.9,330.3 595.49,329.3 595.85,328.1 597.4,326.8 600.19,326.04 600.9,325.1 602.7,326 604.4,324.7 608.8,327.7 609.79,327.3 610.15,326.1 611.4,325.1 614.09,326.09 614.45,324.89 617.6,326 620.29,322.5 620.65,321.3 622.8,318.1 626.3,319.5 630.7,323 631.59,323.01 631.95,321.81 634.2,320.7 634.89,321.16 635.25,319.96 638.6,319.8 639.25,317.81 640.3,311.9 643,310.2 647.3,312.8 649.89,306.94 650.8,304.1 654.3,297.9 657,290 660.5,290 662.2,280.4 664.9,271.7 666.59,271.71 667.5,270.8 670.1,268.1 671.3,258.5" fill="none" stroke="#00f000" stroke-width="1.6" stroke-linejoin="round"/>
<text x="546.5" y="380" class="serif" font-size="10.8" textLength="42.3" lengthAdjust="spacingAndGlyphs" fill="#3a8cc4">ES:-0.463</text>
<text x="634.7" y="276" class="serif" font-size="17.8" textLength="27" lengthAdjust="spacingAndGlyphs" fill="#3a8cc4">C-2</text>
<rect x="492.7" y="443.5" width="156.2" height="11.2" fill="#fff" stroke="#666" stroke-width="1.0"/>
<line x1="493.7" y1="449.2" x2="500.7" y2="449.2" stroke="#00ee00" stroke-width="1.2"/>
<text x="502.3" y="451.2" font-size="5.7" textLength="45" lengthAdjust="spacingAndGlyphs" fill="#222">Enrichment profile</text>
<line x1="550.8" y1="449.2" x2="556.5" y2="449.2" stroke="#333" stroke-width="0.8"/>
<text x="558.8" y="451.2" font-size="5.7" textLength="9.7" lengthAdjust="spacingAndGlyphs" fill="#222">Hits</text>
<line x1="582.3" y1="449.2" x2="588.5" y2="449.2" stroke="#ddd" stroke-width="0.6"/>
<text x="591.1" y="451.2" font-size="5.7" textLength="55.2" lengthAdjust="spacingAndGlyphs" fill="#222">Ranking metric scores</text>
<text x="115" y="464.6" text-anchor="middle" font-weight="bold" font-size="8.3" textLength="65.7" lengthAdjust="spacingAndGlyphs" fill="#000">Enrichment plot:</text>
<text x="115" y="476.3" text-anchor="middle" font-weight="bold" font-size="8.3" textLength="161.7" lengthAdjust="spacingAndGlyphs" fill="#000">HALLMARK_FATTY_ACID_METABOLISM</text>
<rect x="30.6" y="482" width="194.7" height="167.5" fill="#fff"/>
<line x1="50.56" y1="482" x2="50.56" y2="562.5" stroke="#ececec" stroke-width="0.7"/>
<line x1="50.56" y1="596.3" x2="50.56" y2="649.5" stroke="#ececec" stroke-width="0.7"/>
<line x1="70.51" y1="482" x2="70.51" y2="562.5" stroke="#ececec" stroke-width="0.7"/>
<line x1="70.51" y1="596.3" x2="70.51" y2="649.5" stroke="#ececec" stroke-width="0.7"/>
<line x1="90.47" y1="482" x2="90.47" y2="562.5" stroke="#ececec" stroke-width="0.7"/>
<line x1="90.47" y1="596.3" x2="90.47" y2="649.5" stroke="#ececec" stroke-width="0.7"/>
<line x1="110.42" y1="482" x2="110.42" y2="562.5" stroke="#ececec" stroke-width="0.7"/>
<line x1="110.42" y1="596.3" x2="110.42" y2="649.5" stroke="#ececec" stroke-width="0.7"/>
<line x1="130.38" y1="482" x2="130.38" y2="562.5" stroke="#ececec" stroke-width="0.7"/>
<line x1="130.38" y1="596.3" x2="130.38" y2="649.5" stroke="#ececec" stroke-width="0.7"/>
<line x1="150.33" y1="482" x2="150.33" y2="562.5" stroke="#ececec" stroke-width="0.7"/>
<line x1="150.33" y1="596.3" x2="150.33" y2="649.5" stroke="#ececec" stroke-width="0.7"/>
<line x1="170.29" y1="482" x2="170.29" y2="562.5" stroke="#ececec" stroke-width="0.7"/>
<line x1="170.29" y1="596.3" x2="170.29" y2="649.5" stroke="#ececec" stroke-width="0.7"/>
<line x1="190.24" y1="482" x2="190.24" y2="562.5" stroke="#ececec" stroke-width="0.7"/>
<line x1="190.24" y1="596.3" x2="190.24" y2="649.5" stroke="#ececec" stroke-width="0.7"/>
<line x1="210.2" y1="482" x2="210.2" y2="562.5" stroke="#ececec" stroke-width="0.7"/>
<line x1="210.2" y1="596.3" x2="210.2" y2="649.5" stroke="#ececec" stroke-width="0.7"/>
<line x1="30.6" y1="489.1" x2="225.3" y2="489.1" stroke="#ececec" stroke-width="0.7"/>
<line x1="28.6" y1="489.1" x2="30.6" y2="489.1" stroke="#b0b0b0" stroke-width="0.6"/>
<text x="28.2" y="491.3" text-anchor="end" font-size="6.1" fill="#8a8a8a">0.35</text>
<line x1="30.6" y1="498.3" x2="225.3" y2="498.3" stroke="#ececec" stroke-width="0.7"/>
<line x1="28.6" y1="498.3" x2="30.6" y2="498.3" stroke="#b0b0b0" stroke-width="0.6"/>
<text x="28.2" y="500.5" text-anchor="end" font-size="6.1" fill="#8a8a8a">0.30</text>
<line x1="30.6" y1="507.5" x2="225.3" y2="507.5" stroke="#ececec" stroke-width="0.7"/>
<line x1="28.6" y1="507.5" x2="30.6" y2="507.5" stroke="#b0b0b0" stroke-width="0.6"/>
<text x="28.2" y="509.7" text-anchor="end" font-size="6.1" fill="#8a8a8a">0.25</text>
<line x1="30.6" y1="516.7" x2="225.3" y2="516.7" stroke="#ececec" stroke-width="0.7"/>
<line x1="28.6" y1="516.7" x2="30.6" y2="516.7" stroke="#b0b0b0" stroke-width="0.6"/>
<text x="28.2" y="518.9" text-anchor="end" font-size="6.1" fill="#8a8a8a">0.20</text>
<line x1="30.6" y1="525.9" x2="225.3" y2="525.9" stroke="#ececec" stroke-width="0.7"/>
<line x1="28.6" y1="525.9" x2="30.6" y2="525.9" stroke="#b0b0b0" stroke-width="0.6"/>
<text x="28.2" y="528.1" text-anchor="end" font-size="6.1" fill="#8a8a8a">0.15</text>
<line x1="30.6" y1="535.1" x2="225.3" y2="535.1" stroke="#ececec" stroke-width="0.7"/>
<line x1="28.6" y1="535.1" x2="30.6" y2="535.1" stroke="#b0b0b0" stroke-width="0.6"/>
<text x="28.2" y="537.3" text-anchor="end" font-size="6.1" fill="#8a8a8a">0.10</text>
<line x1="30.6" y1="544.3" x2="225.3" y2="544.3" stroke="#ececec" stroke-width="0.7"/>
<line x1="28.6" y1="544.3" x2="30.6" y2="544.3" stroke="#b0b0b0" stroke-width="0.6"/>
<text x="28.2" y="546.5" text-anchor="end" font-size="6.1" fill="#8a8a8a">0.05</text>
<line x1="30.6" y1="553.5" x2="225.3" y2="553.5" stroke="#ececec" stroke-width="0.7"/>
<line x1="28.6" y1="553.5" x2="30.6" y2="553.5" stroke="#b0b0b0" stroke-width="0.6"/>
<text x="28.2" y="555.7" text-anchor="end" font-size="6.1" fill="#8a8a8a">0.00</text>
<line x1="30.6" y1="553.5" x2="225.3" y2="553.5" stroke="#a8a8a8" stroke-width="0.7"/>
<line x1="30.6" y1="482" x2="225.3" y2="482" stroke="#e0e0e0" stroke-width="0.8"/>
<line x1="225.3" y1="482" x2="225.3" y2="649.5" stroke="#d8d8d8" stroke-width="0.8"/>
<line x1="30.6" y1="562.5" x2="225.3" y2="562.5" stroke="#d4d4d4" stroke-width="0.8"/>
<line x1="30.6" y1="589" x2="225.3" y2="589" stroke="#e0e0e0" stroke-width="0.6"/>
<line x1="30.6" y1="596.3" x2="225.3" y2="596.3" stroke="#d8d8d8" stroke-width="0.8"/>
<rect x="30.9" y="563" width="2.2" height="26" fill="#333"/>
<rect x="35.3" y="563" width="1.5" height="26" fill="#333"/>
<rect x="37.5" y="563" width="5.1" height="26" fill="#999"/>
<rect x="44.1" y="563" width="2.9" height="26" fill="#666"/>
<rect x="47.7" y="563" width="1.9" height="26" fill="#888"/>
<rect x="51.4" y="563" width="2.1" height="26" fill="#555"/>
<rect x="54.3" y="563" width="2.6" height="26" fill="#999"/>
<rect x="60.8" y="563" width="1.5" height="26" fill="#555"/>
<rect x="63.8" y="563" width="1.4" height="26" fill="#777"/>
<rect x="66.2" y="563" width="1.2" height="26" fill="#444"/>
<rect x="69.6" y="563" width="2.2" height="26" fill="#aaa"/>
<rect x="74.7" y="563" width="3.7" height="26" fill="#555"/>
<rect x="78.4" y="563" width="2.2" height="26" fill="#333"/>
<rect x="85.7" y="563" width="1" height="26" fill="#888"/>
<rect x="90.8" y="563" width="1.4" height="26" fill="#666"/>
<rect x="95.2" y="563" width="2.9" height="26" fill="#777"/>
<rect x="98.1" y="563" width="2.9" height="26" fill="#999"/>
<rect x="102.5" y="563" width="2.1" height="26" fill="#888"/>
<rect x="106.8" y="563" width="1.5" height="26" fill="#777"/>
<rect x="110.5" y="563" width="1.4" height="26" fill="#444"/>
<rect x="114.1" y="563" width="1.5" height="26" fill="#777"/>
<rect x="117.8" y="563" width="2.9" height="26" fill="#999"/>
<rect x="122.9" y="563" width="1.5" height="26" fill="#555"/>
<rect x="125.8" y="563" width="2.2" height="26" fill="#777"/>
<rect x="128" y="563" width="1.2" height="26" fill="#999"/>
<rect x="132.1" y="563" width="4.4" height="26" fill="#444"/>
<rect x="139.4" y="563" width="2.2" height="26" fill="#888"/>
<rect x="142.3" y="563" width="1.5" height="26" fill="#444"/>
<rect x="145.2" y="563" width="1.5" height="26" fill="#777"/>
<rect x="148.2" y="563" width="2.9" height="26" fill="#444"/>
<rect x="167.9" y="563" width="2.2" height="26" fill="#999"/>
<rect x="170.8" y="563" width="2.2" height="26" fill="#222"/>
<rect x="174.4" y="563" width="2.2" height="26" fill="#777"/>
<rect x="178.8" y="563" width="2.2" height="26" fill="#222"/>
<rect x="183.2" y="563" width="2.2" height="26" fill="#888"/>
<rect x="186.1" y="563" width="1.5" height="26" fill="#555"/>
<rect x="189.8" y="563" width="2.9" height="26" fill="#999"/>
<rect x="194.2" y="563" width="4.3" height="26" fill="#666"/>
<rect x="202.2" y="563" width="2.2" height="26" fill="#888"/>
<rect x="205.1" y="563" width="3.7" height="26" fill="#777"/>
<rect x="210.2" y="563" width="2.9" height="26" fill="#888"/>
<rect x="30.6" y="589" width="56.55" height="6.9" fill="#f4464f"/>
<rect x="87.1" y="589" width="21.95" height="6.9" fill="#f66472"/>
<rect x="109" y="589" width="23.15" height="6.9" fill="#f8848c"/>
<rect x="132.1" y="589" width="38.75" height="6.9" fill="#f8b6e2"/>
<rect x="170.8" y="589" width="24.55" height="6.9" fill="#d2d0f8"/>
<rect x="195.3" y="589" width="4.05" height="6.9" fill="#8484f6"/>
<rect x="199.3" y="589" width="13.55" height="6.9" fill="#5e50ea"/>
<rect x="212.8" y="589" width="3.35" height="6.9" fill="#1c04c8"/>
<line x1="30.6" y1="596.2" x2="225.3" y2="596.2" stroke="#ececec" stroke-width="0.7"/>
<text transform="translate(28,596.2) rotate(-90)" text-anchor="middle" font-size="5.2" fill="#555">4</text>
<line x1="30.6" y1="611.4" x2="225.3" y2="611.4" stroke="#ececec" stroke-width="0.7"/>
<text transform="translate(28,611.4) rotate(-90)" text-anchor="middle" font-size="5.2" fill="#555">2</text>
<line x1="30.6" y1="626.6" x2="225.3" y2="626.6" stroke="#ececec" stroke-width="0.7"/>
<text transform="translate(28,626.6) rotate(-90)" text-anchor="middle" font-size="5.2" fill="#555">0</text>
<line x1="30.6" y1="641.8" x2="225.3" y2="641.8" stroke="#ececec" stroke-width="0.7"/>
<text transform="translate(28,641.8) rotate(-90)" text-anchor="middle" font-size="5.2" fill="#555">-2</text>
<polygon points="30.7,626.6 30.7,608.13 32.09,615.43 35.05,618.39 40.78,620.1 49.48,621.28 69.64,622.42 91.29,623.9 125.2,625.2 131.13,625.99 151.19,626.6 169.98,626.98 190.14,627.82 206.06,629.3 211.79,632.98 213.96,638.76 215.19,646.82 215.19,626.6" fill="#c4c4c4"/>
<line x1="151.1" y1="596.3" x2="151.1" y2="649.5" stroke="#b8b8b8" stroke-width="0.6" stroke-dasharray="1.2,1.2"/>
<text x="131.8" y="623.9" font-size="4.6" textLength="38" lengthAdjust="spacingAndGlyphs" fill="#222">Zero cross at 12075</text>
<text x="32" y="600.2" font-size="4.9" font-weight="bold" textLength="52" lengthAdjust="spacingAndGlyphs" fill="#ff2a2a">'H' (positively correlated)</text>
<text x="127.8" y="647.9" font-size="4.9" font-weight="bold" textLength="55.5" lengthAdjust="spacingAndGlyphs" fill="#3434f0">'C' (negatively correlated)</text>
<line x1="30.6" y1="482" x2="30.6" y2="649.5" stroke="#a8a8a8" stroke-width="0.8"/>
<line x1="30.6" y1="649.5" x2="225.3" y2="649.5" stroke="#a8a8a8" stroke-width="0.8"/>
<line x1="30.6" y1="649.5" x2="30.6" y2="651.1" stroke="#a8a8a8" stroke-width="0.6"/>
<text x="30.6" y="656.9" text-anchor="middle" font-size="5.4" textLength="2.6" lengthAdjust="spacingAndGlyphs" fill="#333">0</text>
<line x1="50.56" y1="649.5" x2="50.56" y2="651.1" stroke="#a8a8a8" stroke-width="0.6"/>
<text x="50.56" y="656.9" text-anchor="middle" font-size="5.4" textLength="12.2" lengthAdjust="spacingAndGlyphs" fill="#333">2,000</text>
<line x1="70.51" y1="649.5" x2="70.51" y2="651.1" stroke="#a8a8a8" stroke-width="0.6"/>
<text x="70.51" y="656.9" text-anchor="middle" font-size="5.4" textLength="12.2" lengthAdjust="spacingAndGlyphs" fill="#333">4,000</text>
<line x1="90.47" y1="649.5" x2="90.47" y2="651.1" stroke="#a8a8a8" stroke-width="0.6"/>
<text x="90.47" y="656.9" text-anchor="middle" font-size="5.4" textLength="12.2" lengthAdjust="spacingAndGlyphs" fill="#333">6,000</text>
<line x1="110.42" y1="649.5" x2="110.42" y2="651.1" stroke="#a8a8a8" stroke-width="0.6"/>
<text x="110.42" y="656.9" text-anchor="middle" font-size="5.4" textLength="12.2" lengthAdjust="spacingAndGlyphs" fill="#333">8,000</text>
<line x1="130.38" y1="649.5" x2="130.38" y2="651.1" stroke="#a8a8a8" stroke-width="0.6"/>
<text x="130.38" y="656.9" text-anchor="middle" font-size="5.4" textLength="14.8" lengthAdjust="spacingAndGlyphs" fill="#333">10,000</text>
<line x1="150.33" y1="649.5" x2="150.33" y2="651.1" stroke="#a8a8a8" stroke-width="0.6"/>
<text x="150.33" y="656.9" text-anchor="middle" font-size="5.4" textLength="14.8" lengthAdjust="spacingAndGlyphs" fill="#333">12,000</text>
<line x1="170.29" y1="649.5" x2="170.29" y2="651.1" stroke="#a8a8a8" stroke-width="0.6"/>
<text x="170.29" y="656.9" text-anchor="middle" font-size="5.4" textLength="14.8" lengthAdjust="spacingAndGlyphs" fill="#333">14,000</text>
<line x1="190.24" y1="649.5" x2="190.24" y2="651.1" stroke="#a8a8a8" stroke-width="0.6"/>
<text x="190.24" y="656.9" text-anchor="middle" font-size="5.4" textLength="14.8" lengthAdjust="spacingAndGlyphs" fill="#333">16,000</text>
<line x1="210.2" y1="649.5" x2="210.2" y2="651.1" stroke="#a8a8a8" stroke-width="0.6"/>
<text x="210.2" y="656.9" text-anchor="middle" font-size="5.4" textLength="14.8" lengthAdjust="spacingAndGlyphs" fill="#333">18,000</text>
<text x="127.95" y="665.4" text-anchor="middle" font-size="6.0" textLength="62" lengthAdjust="spacingAndGlyphs" fill="#333">Rank in Ordered Dataset</text>
<text transform="translate(12.5,522) rotate(-90)" text-anchor="middle" font-size="6.9" textLength="70" lengthAdjust="spacingAndGlyphs" fill="#555">Enrichment score (ES)</text>
<text transform="translate(20.2,622.5) rotate(-90)" text-anchor="middle" font-size="5.9" textLength="84" lengthAdjust="spacingAndGlyphs" fill="#555">Ranked list metric (Signal2Noise)</text>
<polyline points="30.6,553.7 31.6,542.3 32.7,527.2 35.3,529.7 35.99,527.37 36.9,523 38.6,521.3 40.3,514.6 42.8,512.9 44.5,515.4 45.49,508.65 46.2,502.9 48.7,502 50.4,500.3 52.49,501.22 52.85,500.02 53.7,500.8 55.59,498.51 56.2,497 60.4,500.8 61.49,499.26 62.1,497.5 64.49,499.24 64.85,498.04 66.3,499.5 67.15,498.22 68.8,496.1 70.69,494.8 71.3,493.6 74.7,494.8 76.59,492.36 77.2,490.8 79.49,487.95 79.85,486.75 80.6,485.7 85.6,489.4 86.55,489.21 90.6,492.8 91.49,493.84 91.85,492.64 95.7,495.3 96.69,494.97 97.05,493.77 99.9,491.4 103.49,493.65 103.85,492.45 105.8,494.1 107.49,495.51 107.85,494.31 110,496.1 111.19,495.9 111.8,494.9 114.79,498.27 115.15,497.07 117,499.7 119.19,501.35 119.55,500.15 123.1,502.6 124.05,502.33 126.89,505.23 127.25,504.21 128.59,506.26 128.95,505.06 131.9,507.5 134.5,507.2 138,509.3 140.49,511.63 140.85,510.43 143.09,513.44 143.45,512.24 145.89,515.38 146.8,515.4 149.59,518.37 149.95,517.17 152,519.8 162.6,532.1 168.99,538.92 169.35,537.72 171.89,541.73 172.25,540.53 175.49,545.23 175.85,544.03 176.6,545.7 180.1,546.1 184.29,549.37 184.65,548.17 186.79,550.96 187.15,549.76 189.7,552.2 191.19,553.41 191.55,552.21 194.1,554 196.7,553.1 202,557.5 203.29,556.8 203.65,555.6 205.5,554 207.2,553.1 209.9,552.2 211.59,551.69 212.5,550.5 214.2,552.2 216.5,553.1" fill="none" stroke="#00f000" stroke-width="1.6" stroke-linejoin="round"/>
<text x="86.8" y="608" class="serif" font-size="10.4" textLength="34.9" lengthAdjust="spacingAndGlyphs" fill="#3a8cc4">ES:0.370</text>
<text x="189.7" y="501.9" class="serif" font-size="17.8" textLength="31.5" lengthAdjust="spacingAndGlyphs" fill="#3a8cc4">A -3</text>
<rect x="37.2" y="671" width="156.2" height="11.2" fill="#fff" stroke="#666" stroke-width="1.0"/>
<line x1="38.2" y1="676.7" x2="45.2" y2="676.7" stroke="#00ee00" stroke-width="1.2"/>
<text x="46.8" y="678.7" font-size="5.7" textLength="45" lengthAdjust="spacingAndGlyphs" fill="#222">Enrichment profile</text>
<line x1="95.3" y1="676.7" x2="101" y2="676.7" stroke="#333" stroke-width="0.8"/>
<text x="103.3" y="678.7" font-size="5.7" textLength="9.7" lengthAdjust="spacingAndGlyphs" fill="#222">Hits</text>
<line x1="126.8" y1="676.7" x2="133" y2="676.7" stroke="#ddd" stroke-width="0.6"/>
<text x="135.6" y="678.7" font-size="5.7" textLength="55.2" lengthAdjust="spacingAndGlyphs" fill="#222">Ranking metric scores</text>
<text x="342.5" y="464.6" text-anchor="middle" font-weight="bold" font-size="8.3" textLength="65.7" lengthAdjust="spacingAndGlyphs" fill="#000">Enrichment plot:</text>
<text x="342.5" y="476.3" text-anchor="middle" font-weight="bold" font-size="8.3" textLength="161.7" lengthAdjust="spacingAndGlyphs" fill="#000">HALLMARK_FATTY_ACID_METABOLISM</text>
<rect x="260.2" y="482" width="193.3" height="167.5" fill="#fff"/>
<line x1="280.09" y1="482" x2="280.09" y2="562.5" stroke="#ececec" stroke-width="0.7"/>
<line x1="280.09" y1="596.3" x2="280.09" y2="649.5" stroke="#ececec" stroke-width="0.7"/>
<line x1="299.98" y1="482" x2="299.98" y2="562.5" stroke="#ececec" stroke-width="0.7"/>
<line x1="299.98" y1="596.3" x2="299.98" y2="649.5" stroke="#ececec" stroke-width="0.7"/>
<line x1="319.87" y1="482" x2="319.87" y2="562.5" stroke="#ececec" stroke-width="0.7"/>
<line x1="319.87" y1="596.3" x2="319.87" y2="649.5" stroke="#ececec" stroke-width="0.7"/>
<line x1="339.76" y1="482" x2="339.76" y2="562.5" stroke="#ececec" stroke-width="0.7"/>
<line x1="339.76" y1="596.3" x2="339.76" y2="649.5" stroke="#ececec" stroke-width="0.7"/>
<line x1="359.64" y1="482" x2="359.64" y2="562.5" stroke="#ececec" stroke-width="0.7"/>
<line x1="359.64" y1="596.3" x2="359.64" y2="649.5" stroke="#ececec" stroke-width="0.7"/>
<line x1="379.53" y1="482" x2="379.53" y2="562.5" stroke="#ececec" stroke-width="0.7"/>
<line x1="379.53" y1="596.3" x2="379.53" y2="649.5" stroke="#ececec" stroke-width="0.7"/>
<line x1="399.42" y1="482" x2="399.42" y2="562.5" stroke="#ececec" stroke-width="0.7"/>
<line x1="399.42" y1="596.3" x2="399.42" y2="649.5" stroke="#ececec" stroke-width="0.7"/>
<line x1="419.31" y1="482" x2="419.31" y2="562.5" stroke="#ececec" stroke-width="0.7"/>
<line x1="419.31" y1="596.3" x2="419.31" y2="649.5" stroke="#ececec" stroke-width="0.7"/>
<line x1="439.2" y1="482" x2="439.2" y2="562.5" stroke="#ececec" stroke-width="0.7"/>
<line x1="439.2" y1="596.3" x2="439.2" y2="649.5" stroke="#ececec" stroke-width="0.7"/>
<line x1="260.2" y1="486.4" x2="453.5" y2="486.4" stroke="#ececec" stroke-width="0.7"/>
<line x1="258.2" y1="486.4" x2="260.2" y2="486.4" stroke="#b0b0b0" stroke-width="0.6"/>
<text x="257.8" y="488.6" text-anchor="end" font-size="6.1" fill="#8a8a8a">0.00</text>
<line x1="260.2" y1="495.38" x2="453.5" y2="495.38" stroke="#ececec" stroke-width="0.7"/>
<line x1="258.2" y1="495.38" x2="260.2" y2="495.38" stroke="#b0b0b0" stroke-width="0.6"/>
<text x="257.8" y="497.58" text-anchor="end" font-size="6.1" fill="#8a8a8a">-0.05</text>
<line x1="260.2" y1="504.36" x2="453.5" y2="504.36" stroke="#ececec" stroke-width="0.7"/>
<line x1="258.2" y1="504.36" x2="260.2" y2="504.36" stroke="#b0b0b0" stroke-width="0.6"/>
<text x="257.8" y="506.56" text-anchor="end" font-size="6.1" fill="#8a8a8a">-0.10</text>
<line x1="260.2" y1="513.34" x2="453.5" y2="513.34" stroke="#ececec" stroke-width="0.7"/>
<line x1="258.2" y1="513.34" x2="260.2" y2="513.34" stroke="#b0b0b0" stroke-width="0.6"/>
<text x="257.8" y="515.54" text-anchor="end" font-size="6.1" fill="#8a8a8a">-0.15</text>
<line x1="260.2" y1="522.32" x2="453.5" y2="522.32" stroke="#ececec" stroke-width="0.7"/>
<line x1="258.2" y1="522.32" x2="260.2" y2="522.32" stroke="#b0b0b0" stroke-width="0.6"/>
<text x="257.8" y="524.52" text-anchor="end" font-size="6.1" fill="#8a8a8a">-0.20</text>
<line x1="260.2" y1="531.3" x2="453.5" y2="531.3" stroke="#ececec" stroke-width="0.7"/>
<line x1="258.2" y1="531.3" x2="260.2" y2="531.3" stroke="#b0b0b0" stroke-width="0.6"/>
<text x="257.8" y="533.5" text-anchor="end" font-size="6.1" fill="#8a8a8a">-0.25</text>
<line x1="260.2" y1="540.28" x2="453.5" y2="540.28" stroke="#ececec" stroke-width="0.7"/>
<line x1="258.2" y1="540.28" x2="260.2" y2="540.28" stroke="#b0b0b0" stroke-width="0.6"/>
<text x="257.8" y="542.48" text-anchor="end" font-size="6.1" fill="#8a8a8a">-0.30</text>
<line x1="260.2" y1="549.26" x2="453.5" y2="549.26" stroke="#ececec" stroke-width="0.7"/>
<line x1="258.2" y1="549.26" x2="260.2" y2="549.26" stroke="#b0b0b0" stroke-width="0.6"/>
<text x="257.8" y="551.46" text-anchor="end" font-size="6.1" fill="#8a8a8a">-0.35</text>
<line x1="260.2" y1="558.24" x2="453.5" y2="558.24" stroke="#ececec" stroke-width="0.7"/>
<line x1="258.2" y1="558.24" x2="260.2" y2="558.24" stroke="#b0b0b0" stroke-width="0.6"/>
<text x="257.8" y="560.44" text-anchor="end" font-size="6.1" fill="#8a8a8a">-0.40</text>
<line x1="260.2" y1="486.4" x2="453.5" y2="486.4" stroke="#a8a8a8" stroke-width="0.7"/>
<line x1="260.2" y1="482" x2="453.5" y2="482" stroke="#e0e0e0" stroke-width="0.8"/>
<line x1="453.5" y1="482" x2="453.5" y2="649.5" stroke="#d8d8d8" stroke-width="0.8"/>
<line x1="260.2" y1="562.5" x2="453.5" y2="562.5" stroke="#d4d4d4" stroke-width="0.8"/>
<line x1="260.2" y1="589" x2="453.5" y2="589" stroke="#e0e0e0" stroke-width="0.6"/>
<line x1="260.2" y1="596.3" x2="453.5" y2="596.3" stroke="#d8d8d8" stroke-width="0.8"/>
<rect x="260.6" y="563" width="1.5" height="26" fill="#555"/>
<rect x="264.3" y="563" width="2.9" height="26" fill="#777"/>
<rect x="268.7" y="563" width="1.4" height="26" fill="#999"/>
<rect x="271.3" y="563" width="1.5" height="26" fill="#555"/>
<rect x="274.2" y="563" width="1.5" height="26" fill="#777"/>
<rect x="277.4" y="563" width="3" height="26" fill="#888"/>
<rect x="280.4" y="563" width="2.9" height="26" fill="#aaa"/>
<rect x="284.4" y="563" width="3.3" height="26" fill="#333"/>
<rect x="287.7" y="563" width="3.2" height="26" fill="#555"/>
<rect x="308.8" y="563" width="2.9" height="26" fill="#555"/>
<rect x="314.7" y="563" width="2.2" height="26" fill="#333"/>
<rect x="319.8" y="563" width="2.2" height="26" fill="#888"/>
<rect x="323.4" y="563" width="3.7" height="26" fill="#999"/>
<rect x="328.5" y="563" width="1.5" height="26" fill="#444"/>
<rect x="331.5" y="563" width="2.9" height="26" fill="#999"/>
<rect x="335.1" y="563" width="3.7" height="26" fill="#555"/>
<rect x="341.7" y="563" width="2.2" height="26" fill="#555"/>
<rect x="345.3" y="563" width="2.2" height="26" fill="#777"/>
<rect x="348.2" y="563" width="2.2" height="26" fill="#999"/>
<rect x="351.9" y="563" width="2.9" height="26" fill="#555"/>
<rect x="355" y="563" width="5.1" height="26" fill="#444"/>
<rect x="362.3" y="563" width="1.5" height="26" fill="#555"/>
<rect x="364.5" y="563" width="2.9" height="26" fill="#999"/>
<rect x="370.3" y="563" width="3.7" height="26" fill="#666"/>
<rect x="376.2" y="563" width="2.2" height="26" fill="#666"/>
<rect x="379.1" y="563" width="2.9" height="26" fill="#888"/>
<rect x="384.2" y="563" width="1.5" height="26" fill="#aaa"/>
<rect x="387.8" y="563" width="2.2" height="26" fill="#444"/>
<rect x="392.2" y="563" width="5.9" height="26" fill="#888"/>
<rect x="399.5" y="563" width="2.2" height="26" fill="#aaa"/>
<rect x="403.2" y="563" width="3.6" height="26" fill="#777"/>
<rect x="417" y="563" width="3.7" height="26" fill="#555"/>
<rect x="423.6" y="563" width="2.2" height="26" fill="#333"/>
<rect x="427.3" y="563" width="3.6" height="26" fill="#999"/>
<rect x="432.4" y="563" width="1.4" height="26" fill="#777"/>
<rect x="436.8" y="563" width="4.3" height="26" fill="#666"/>
<rect x="441.9" y="563" width="1.9" height="26" fill="#333"/>
<rect x="260.2" y="589" width="17.25" height="6.9" fill="#f4464f"/>
<rect x="277.4" y="589" width="4.45" height="6.9" fill="#f66472"/>
<rect x="281.8" y="589" width="5.15" height="6.9" fill="#f8848c"/>
<rect x="286.9" y="589" width="22.45" height="6.9" fill="#f8b6e2"/>
<rect x="309.3" y="589" width="30.25" height="6.9" fill="#d2d0f8"/>
<rect x="339.5" y="589" width="23.55" height="6.9" fill="#c4c2f6"/>
<rect x="363" y="589" width="21.95" height="6.9" fill="#8484f6"/>
<rect x="384.9" y="589" width="49.75" height="6.9" fill="#5e50ea"/>
<rect x="434.6" y="589" width="9.25" height="6.9" fill="#1c04c8"/>
<line x1="260.2" y1="605.26" x2="453.5" y2="605.26" stroke="#ececec" stroke-width="0.7"/>
<text transform="translate(257.6,605.26) rotate(-90)" text-anchor="middle" font-size="5.2" fill="#555">2</text>
<line x1="260.2" y1="618.7" x2="453.5" y2="618.7" stroke="#ececec" stroke-width="0.7"/>
<text transform="translate(257.6,618.7) rotate(-90)" text-anchor="middle" font-size="5.2" fill="#555">0</text>
<line x1="260.2" y1="632.14" x2="453.5" y2="632.14" stroke="#ececec" stroke-width="0.7"/>
<text transform="translate(257.6,632.14) rotate(-90)" text-anchor="middle" font-size="5.2" fill="#555">-2</text>
<line x1="260.2" y1="645.58" x2="453.5" y2="645.58" stroke="#ececec" stroke-width="0.7"/>
<text transform="translate(257.6,645.58) rotate(-90)" text-anchor="middle" font-size="5.2" fill="#555">-4</text>
<polygon points="260.4,618.7 260.4,609.49 261.58,613.66 264.04,615.41 273.87,617.02 285.49,617.83 292.38,618.7 339.22,619.3 363.32,620.98 385.76,621.93 408.19,623.61 425.42,625.08 435.75,627.1 440.96,630.59 442.63,635.9 443.87,646.39 443.87,618.7" fill="#c4c4c4"/>
<line x1="292.6" y1="596.3" x2="292.6" y2="649.5" stroke="#b8b8b8" stroke-width="0.6" stroke-dasharray="1.2,1.2"/>
<text x="275.1" y="623.7" font-size="4.6" textLength="35.3" lengthAdjust="spacingAndGlyphs" fill="#222">Zero cross at 3262</text>
<text x="261.6" y="600.2" font-size="4.9" font-weight="bold" textLength="52.1" lengthAdjust="spacingAndGlyphs" fill="#ff2a2a">'H' (positively correlated)</text>
<text x="355.8" y="647.9" font-size="4.9" font-weight="bold" textLength="55.5" lengthAdjust="spacingAndGlyphs" fill="#3434f0">'L' (negatively correlated)</text>
<line x1="260.2" y1="482" x2="260.2" y2="649.5" stroke="#a8a8a8" stroke-width="0.8"/>
<line x1="260.2" y1="649.5" x2="453.5" y2="649.5" stroke="#a8a8a8" stroke-width="0.8"/>
<line x1="260.2" y1="649.5" x2="260.2" y2="651.1" stroke="#a8a8a8" stroke-width="0.6"/>
<text x="260.2" y="656.9" text-anchor="middle" font-size="5.4" textLength="2.6" lengthAdjust="spacingAndGlyphs" fill="#333">0</text>
<line x1="280.09" y1="649.5" x2="280.09" y2="651.1" stroke="#a8a8a8" stroke-width="0.6"/>
<text x="280.09" y="656.9" text-anchor="middle" font-size="5.4" textLength="12.2" lengthAdjust="spacingAndGlyphs" fill="#333">2,000</text>
<line x1="299.98" y1="649.5" x2="299.98" y2="651.1" stroke="#a8a8a8" stroke-width="0.6"/>
<text x="299.98" y="656.9" text-anchor="middle" font-size="5.4" textLength="12.2" lengthAdjust="spacingAndGlyphs" fill="#333">4,000</text>
<line x1="319.87" y1="649.5" x2="319.87" y2="651.1" stroke="#a8a8a8" stroke-width="0.6"/>
<text x="319.87" y="656.9" text-anchor="middle" font-size="5.4" textLength="12.2" lengthAdjust="spacingAndGlyphs" fill="#333">6,000</text>
<line x1="339.76" y1="649.5" x2="339.76" y2="651.1" stroke="#a8a8a8" stroke-width="0.6"/>
<text x="339.76" y="656.9" text-anchor="middle" font-size="5.4" textLength="12.2" lengthAdjust="spacingAndGlyphs" fill="#333">8,000</text>
<line x1="359.64" y1="649.5" x2="359.64" y2="651.1" stroke="#a8a8a8" stroke-width="0.6"/>
<text x="359.64" y="656.9" text-anchor="middle" font-size="5.4" textLength="14.8" lengthAdjust="spacingAndGlyphs" fill="#333">10,000</text>
<line x1="379.53" y1="649.5" x2="379.53" y2="651.1" stroke="#a8a8a8" stroke-width="0.6"/>
<text x="379.53" y="656.9" text-anchor="middle" font-size="5.4" textLength="14.8" lengthAdjust="spacingAndGlyphs" fill="#333">12,000</text>
<line x1="399.42" y1="649.5" x2="399.42" y2="651.1" stroke="#a8a8a8" stroke-width="0.6"/>
<text x="399.42" y="656.9" text-anchor="middle" font-size="5.4" textLength="14.8" lengthAdjust="spacingAndGlyphs" fill="#333">14,000</text>
<line x1="419.31" y1="649.5" x2="419.31" y2="651.1" stroke="#a8a8a8" stroke-width="0.6"/>
<text x="419.31" y="656.9" text-anchor="middle" font-size="5.4" textLength="14.8" lengthAdjust="spacingAndGlyphs" fill="#333">16,000</text>
<line x1="439.2" y1="649.5" x2="439.2" y2="651.1" stroke="#a8a8a8" stroke-width="0.6"/>
<text x="439.2" y="656.9" text-anchor="middle" font-size="5.4" textLength="14.8" lengthAdjust="spacingAndGlyphs" fill="#333">18,000</text>
<text x="356.85" y="665.4" text-anchor="middle" font-size="6.0" textLength="62" lengthAdjust="spacingAndGlyphs" fill="#333">Rank in Ordered Dataset</text>
<text transform="translate(240,522) rotate(-90)" text-anchor="middle" font-size="6.9" textLength="70" lengthAdjust="spacingAndGlyphs" fill="#555">Enrichment score (ES)</text>
<text transform="translate(249.8,622.5) rotate(-90)" text-anchor="middle" font-size="5.9" textLength="84" lengthAdjust="spacingAndGlyphs" fill="#555">Ranked list metric (Signal2Noise)</text>
<polyline points="260.2,486.4 261.39,487.76 261.75,486.56 262.4,487.8 264.1,487.4 265.8,488.6 267.4,486.9 269.39,488.81 270,488.6 272.09,490.84 272.45,489.64 275,492.5 278.4,494.1 279.25,493.76 281.7,495.8 285.99,499.87 286.35,498.67 288.4,501.2 289.29,502.59 289.65,501.39 295.1,507.1 303.5,515.4 310.19,522.7 310.55,521.5 311.9,523.8 315.79,527.99 316.15,526.79 320.89,532.69 321.25,531.49 322,533.1 325.19,536.02 325.55,534.82 329.19,538.91 329.55,537.71 332.89,541.59 333.25,540.39 335.4,542.8 336.99,543.54 337.35,542.34 338.8,543.1 343,545.5 345.3,547 346.39,547.96 346.75,546.76 349.29,548.91 349.65,547.71 350.5,548.7 353.39,549.89 353.75,548.69 354.9,549.6 357.59,547.81 357.95,546.61 359.3,545.7 363.09,546.65 363.7,546.1 365.89,547.58 366.25,546.38 367.2,547.5 370.7,549.6 372.09,548.8 372.45,547.6 373.3,547 376.8,549.2 377.65,548.35 380.59,547.9 381.2,547 384.89,549.71 385.25,548.51 388.2,551 388.89,551.23 389.25,550.03 392.6,548.7 395.09,548.87 395.45,547.67 397.8,547.8 400.59,550.56 401.3,550.5 404.99,548.16 405.7,547 417.1,558.3 418.89,553.71 419.25,552.51 420.6,548.2 423.2,550.5 424.69,544.52 425.05,543.32 425.8,539.1 429.3,538.2 431.1,529.4 433.09,530.51 433.45,529.31 434.6,530.3 437.2,532.1 438.99,524.5 439.9,519.8 441.6,512.8 443.4,498.8 444.2,484.8" fill="none" stroke="#00f000" stroke-width="1.6" stroke-linejoin="round"/>
<text x="319.5" y="607" class="serif" font-size="10.4" textLength="38" lengthAdjust="spacingAndGlyphs" fill="#3a8cc4">ES:-0.401</text>
<text x="415.3" y="505.4" class="serif" font-size="17.8" textLength="27.2" lengthAdjust="spacingAndGlyphs" fill="#3a8cc4">B-3</text>
<rect x="264.7" y="671" width="156.2" height="11.2" fill="#fff" stroke="#666" stroke-width="1.0"/>
<line x1="265.7" y1="676.7" x2="272.7" y2="676.7" stroke="#00ee00" stroke-width="1.2"/>
<text x="274.3" y="678.7" font-size="5.7" textLength="45" lengthAdjust="spacingAndGlyphs" fill="#222">Enrichment profile</text>
<line x1="322.8" y1="676.7" x2="328.5" y2="676.7" stroke="#333" stroke-width="0.8"/>
<text x="330.8" y="678.7" font-size="5.7" textLength="9.7" lengthAdjust="spacingAndGlyphs" fill="#222">Hits</text>
<line x1="354.3" y1="676.7" x2="360.5" y2="676.7" stroke="#ddd" stroke-width="0.6"/>
<text x="363.1" y="678.7" font-size="5.7" textLength="55.2" lengthAdjust="spacingAndGlyphs" fill="#222">Ranking metric scores</text>
<text x="570.5" y="464.6" text-anchor="middle" font-weight="bold" font-size="8.3" textLength="65.7" lengthAdjust="spacingAndGlyphs" fill="#000">Enrichment plot:</text>
<text x="570.5" y="476.3" text-anchor="middle" font-weight="bold" font-size="8.3" textLength="161.7" lengthAdjust="spacingAndGlyphs" fill="#000">HALLMARK_FATTY_ACID_METABOLISM</text>
<rect x="488.2" y="482" width="192.8" height="167.5" fill="#fff"/>
<line x1="508.16" y1="482" x2="508.16" y2="562.5" stroke="#ececec" stroke-width="0.7"/>
<line x1="508.16" y1="596.3" x2="508.16" y2="649.5" stroke="#ececec" stroke-width="0.7"/>
<line x1="528.11" y1="482" x2="528.11" y2="562.5" stroke="#ececec" stroke-width="0.7"/>
<line x1="528.11" y1="596.3" x2="528.11" y2="649.5" stroke="#ececec" stroke-width="0.7"/>
<line x1="548.07" y1="482" x2="548.07" y2="562.5" stroke="#ececec" stroke-width="0.7"/>
<line x1="548.07" y1="596.3" x2="548.07" y2="649.5" stroke="#ececec" stroke-width="0.7"/>
<line x1="568.02" y1="482" x2="568.02" y2="562.5" stroke="#ececec" stroke-width="0.7"/>
<line x1="568.02" y1="596.3" x2="568.02" y2="649.5" stroke="#ececec" stroke-width="0.7"/>
<line x1="587.98" y1="482" x2="587.98" y2="562.5" stroke="#ececec" stroke-width="0.7"/>
<line x1="587.98" y1="596.3" x2="587.98" y2="649.5" stroke="#ececec" stroke-width="0.7"/>
<line x1="607.93" y1="482" x2="607.93" y2="562.5" stroke="#ececec" stroke-width="0.7"/>
<line x1="607.93" y1="596.3" x2="607.93" y2="649.5" stroke="#ececec" stroke-width="0.7"/>
<line x1="627.89" y1="482" x2="627.89" y2="562.5" stroke="#ececec" stroke-width="0.7"/>
<line x1="627.89" y1="596.3" x2="627.89" y2="649.5" stroke="#ececec" stroke-width="0.7"/>
<line x1="647.84" y1="482" x2="647.84" y2="562.5" stroke="#ececec" stroke-width="0.7"/>
<line x1="647.84" y1="596.3" x2="647.84" y2="649.5" stroke="#ececec" stroke-width="0.7"/>
<line x1="667.8" y1="482" x2="667.8" y2="562.5" stroke="#ececec" stroke-width="0.7"/>
<line x1="667.8" y1="596.3" x2="667.8" y2="649.5" stroke="#ececec" stroke-width="0.7"/>
<line x1="488.2" y1="487.2" x2="681" y2="487.2" stroke="#ececec" stroke-width="0.7"/>
<line x1="486.2" y1="487.2" x2="488.2" y2="487.2" stroke="#b0b0b0" stroke-width="0.6"/>
<text x="485.8" y="489.4" text-anchor="end" font-size="6.1" fill="#8a8a8a">0.00</text>
<line x1="488.2" y1="495.8" x2="681" y2="495.8" stroke="#ececec" stroke-width="0.7"/>
<line x1="486.2" y1="495.8" x2="488.2" y2="495.8" stroke="#b0b0b0" stroke-width="0.6"/>
<text x="485.8" y="498" text-anchor="end" font-size="6.1" fill="#8a8a8a">-0.05</text>
<line x1="488.2" y1="504.4" x2="681" y2="504.4" stroke="#ececec" stroke-width="0.7"/>
<line x1="486.2" y1="504.4" x2="488.2" y2="504.4" stroke="#b0b0b0" stroke-width="0.6"/>
<text x="485.8" y="506.6" text-anchor="end" font-size="6.1" fill="#8a8a8a">-0.10</text>
<line x1="488.2" y1="513" x2="681" y2="513" stroke="#ececec" stroke-width="0.7"/>
<line x1="486.2" y1="513" x2="488.2" y2="513" stroke="#b0b0b0" stroke-width="0.6"/>
<text x="485.8" y="515.2" text-anchor="end" font-size="6.1" fill="#8a8a8a">-0.15</text>
<line x1="488.2" y1="521.6" x2="681" y2="521.6" stroke="#ececec" stroke-width="0.7"/>
<line x1="486.2" y1="521.6" x2="488.2" y2="521.6" stroke="#b0b0b0" stroke-width="0.6"/>
<text x="485.8" y="523.8" text-anchor="end" font-size="6.1" fill="#8a8a8a">-0.20</text>
<line x1="488.2" y1="530.2" x2="681" y2="530.2" stroke="#ececec" stroke-width="0.7"/>
<line x1="486.2" y1="530.2" x2="488.2" y2="530.2" stroke="#b0b0b0" stroke-width="0.6"/>
<text x="485.8" y="532.4" text-anchor="end" font-size="6.1" fill="#8a8a8a">-0.25</text>
<line x1="488.2" y1="538.8" x2="681" y2="538.8" stroke="#ececec" stroke-width="0.7"/>
<line x1="486.2" y1="538.8" x2="488.2" y2="538.8" stroke="#b0b0b0" stroke-width="0.6"/>
<text x="485.8" y="541" text-anchor="end" font-size="6.1" fill="#8a8a8a">-0.30</text>
<line x1="488.2" y1="547.4" x2="681" y2="547.4" stroke="#ececec" stroke-width="0.7"/>
<line x1="486.2" y1="547.4" x2="488.2" y2="547.4" stroke="#b0b0b0" stroke-width="0.6"/>
<text x="485.8" y="549.6" text-anchor="end" font-size="6.1" fill="#8a8a8a">-0.35</text>
<line x1="488.2" y1="556" x2="681" y2="556" stroke="#ececec" stroke-width="0.7"/>
<line x1="486.2" y1="556" x2="488.2" y2="556" stroke="#b0b0b0" stroke-width="0.6"/>
<text x="485.8" y="558.2" text-anchor="end" font-size="6.1" fill="#8a8a8a">-0.40</text>
<line x1="488.2" y1="487.2" x2="681" y2="487.2" stroke="#a8a8a8" stroke-width="0.7"/>
<line x1="488.2" y1="482" x2="681" y2="482" stroke="#e0e0e0" stroke-width="0.8"/>
<line x1="681" y1="482" x2="681" y2="649.5" stroke="#d8d8d8" stroke-width="0.8"/>
<line x1="488.2" y1="562.5" x2="681" y2="562.5" stroke="#d4d4d4" stroke-width="0.8"/>
<line x1="488.2" y1="589" x2="681" y2="589" stroke="#e0e0e0" stroke-width="0.6"/>
<line x1="488.2" y1="596.3" x2="681" y2="596.3" stroke="#d8d8d8" stroke-width="0.8"/>
<rect x="491.6" y="563" width="1.4" height="26" fill="#777"/>
<rect x="493.8" y="563" width="1.4" height="26" fill="#999"/>
<rect x="497.4" y="563" width="2.2" height="26" fill="#666"/>
<rect x="500.3" y="563" width="2.2" height="26" fill="#444"/>
<rect x="504" y="563" width="1.4" height="26" fill="#999"/>
<rect x="506.9" y="563" width="2.2" height="26" fill="#333"/>
<rect x="512" y="563" width="1.5" height="26" fill="#777"/>
<rect x="514.2" y="563" width="2.2" height="26" fill="#555"/>
<rect x="517.8" y="563" width="2.2" height="26" fill="#444"/>
<rect x="521.5" y="563" width="1.5" height="26" fill="#888"/>
<rect x="525.1" y="563" width="2.2" height="26" fill="#444"/>
<rect x="528.8" y="563" width="4.4" height="26" fill="#555"/>
<rect x="537.6" y="563" width="0.7" height="26" fill="#888"/>
<rect x="539.7" y="563" width="1.5" height="26" fill="#777"/>
<rect x="555.1" y="563" width="1.4" height="26" fill="#777"/>
<rect x="559.5" y="563" width="2.1" height="26" fill="#555"/>
<rect x="563.1" y="563" width="1.5" height="26" fill="#888"/>
<rect x="565.3" y="563" width="1.5" height="26" fill="#888"/>
<rect x="571.1" y="563" width="2.2" height="26" fill="#555"/>
<rect x="575.5" y="563" width="0.7" height="26" fill="#999"/>
<rect x="577" y="563" width="1.4" height="26" fill="#777"/>
<rect x="582.7" y="563" width="2.9" height="26" fill="#888"/>
<rect x="588.6" y="563" width="2.2" height="26" fill="#aaa"/>
<rect x="593" y="563" width="1.4" height="26" fill="#999"/>
<rect x="595.9" y="563" width="2.2" height="26" fill="#777"/>
<rect x="599.5" y="563" width="2.2" height="26" fill="#555"/>
<rect x="602.4" y="563" width="4.4" height="26" fill="#444"/>
<rect x="609" y="563" width="2.2" height="26" fill="#777"/>
<rect x="612.7" y="563" width="2.9" height="26" fill="#999"/>
<rect x="616.3" y="563" width="5.8" height="26" fill="#444"/>
<rect x="624.3" y="563" width="2.2" height="26" fill="#aaa"/>
<rect x="628" y="563" width="2.2" height="26" fill="#777"/>
<rect x="631.6" y="563" width="2.2" height="26" fill="#777"/>
<rect x="635.3" y="563" width="2.2" height="26" fill="#555"/>
<rect x="638.9" y="563" width="2.2" height="26" fill="#777"/>
<rect x="643.3" y="563" width="1.5" height="26" fill="#999"/>
<rect x="647" y="563" width="2.2" height="26" fill="#222"/>
<rect x="650.6" y="563" width="2.2" height="26" fill="#888"/>
<rect x="654.3" y="563" width="4.3" height="26" fill="#777"/>
<rect x="660.8" y="563" width="1.5" height="26" fill="#999"/>
<rect x="663" y="563" width="5.9" height="26" fill="#333"/>
<rect x="669.6" y="563" width="1.5" height="26" fill="#888"/>
<rect x="488.2" y="589" width="22.35" height="6.9" fill="#f4464f"/>
<rect x="510.5" y="589" width="8.15" height="6.9" fill="#f66472"/>
<rect x="518.6" y="589" width="10.95" height="6.9" fill="#f8848c"/>
<rect x="529.5" y="589" width="26.35" height="6.9" fill="#f8b6e2"/>
<rect x="555.8" y="589" width="51.05" height="6.9" fill="#d2d0f8"/>
<rect x="606.8" y="589" width="16.15" height="6.9" fill="#8484f6"/>
<rect x="622.9" y="589" width="39.75" height="6.9" fill="#5e50ea"/>
<rect x="662.6" y="589" width="8.75" height="6.9" fill="#1c04c8"/>
<line x1="488.2" y1="606.1" x2="681" y2="606.1" stroke="#ececec" stroke-width="0.7"/>
<text transform="translate(485.6,606.1) rotate(-90)" text-anchor="middle" font-size="5.2" fill="#555">2</text>
<line x1="488.2" y1="620.9" x2="681" y2="620.9" stroke="#ececec" stroke-width="0.7"/>
<text transform="translate(485.6,620.9) rotate(-90)" text-anchor="middle" font-size="5.2" fill="#555">0</text>
<line x1="488.2" y1="635.7" x2="681" y2="635.7" stroke="#ececec" stroke-width="0.7"/>
<text transform="translate(485.6,635.7) rotate(-90)" text-anchor="middle" font-size="5.2" fill="#555">-2</text>
<polygon points="488.79,620.9 488.79,612.83 489.87,615.79 493.41,617.9 504.89,619 523.55,620.1 540.74,620.9 560.09,621 606.64,622.5 635.31,623.79 656.82,625.6 663.99,627.41 668.51,630.67 670.27,635.33 672.19,647.1 672.19,620.9" fill="#c4c4c4"/>
<line x1="540.7" y1="596.3" x2="540.7" y2="649.5" stroke="#b8b8b8" stroke-width="0.6" stroke-dasharray="1.2,1.2"/>
<text x="522.2" y="623.7" font-size="4.6" textLength="35.4" lengthAdjust="spacingAndGlyphs" fill="#222">Zero cross at 5272</text>
<text x="488.6" y="600.2" font-size="4.9" font-weight="bold" textLength="53.2" lengthAdjust="spacingAndGlyphs" fill="#ff2a2a">'L' (positively correlated)</text>
<text x="584.5" y="647.9" font-size="4.9" font-weight="bold" textLength="54.8" lengthAdjust="spacingAndGlyphs" fill="#3434f0">'C' (negatively correlated)</text>
<line x1="488.2" y1="482" x2="488.2" y2="649.5" stroke="#a8a8a8" stroke-width="0.8"/>
<line x1="488.2" y1="649.5" x2="681" y2="649.5" stroke="#a8a8a8" stroke-width="0.8"/>
<line x1="488.2" y1="649.5" x2="488.2" y2="651.1" stroke="#a8a8a8" stroke-width="0.6"/>
<text x="488.2" y="656.9" text-anchor="middle" font-size="5.4" textLength="2.6" lengthAdjust="spacingAndGlyphs" fill="#333">0</text>
<line x1="508.16" y1="649.5" x2="508.16" y2="651.1" stroke="#a8a8a8" stroke-width="0.6"/>
<text x="508.16" y="656.9" text-anchor="middle" font-size="5.4" textLength="12.2" lengthAdjust="spacingAndGlyphs" fill="#333">2,000</text>
<line x1="528.11" y1="649.5" x2="528.11" y2="651.1" stroke="#a8a8a8" stroke-width="0.6"/>
<text x="528.11" y="656.9" text-anchor="middle" font-size="5.4" textLength="12.2" lengthAdjust="spacingAndGlyphs" fill="#333">4,000</text>
<line x1="548.07" y1="649.5" x2="548.07" y2="651.1" stroke="#a8a8a8" stroke-width="0.6"/>
<text x="548.07" y="656.9" text-anchor="middle" font-size="5.4" textLength="12.2" lengthAdjust="spacingAndGlyphs" fill="#333">6,000</text>
<line x1="568.02" y1="649.5" x2="568.02" y2="651.1" stroke="#a8a8a8" stroke-width="0.6"/>
<text x="568.02" y="656.9" text-anchor="middle" font-size="5.4" textLength="12.2" lengthAdjust="spacingAndGlyphs" fill="#333">8,000</text>
<line x1="587.98" y1="649.5" x2="587.98" y2="651.1" stroke="#a8a8a8" stroke-width="0.6"/>
<text x="587.98" y="656.9" text-anchor="middle" font-size="5.4" textLength="14.8" lengthAdjust="spacingAndGlyphs" fill="#333">10,000</text>
<line x1="607.93" y1="649.5" x2="607.93" y2="651.1" stroke="#a8a8a8" stroke-width="0.6"/>
<text x="607.93" y="656.9" text-anchor="middle" font-size="5.4" textLength="14.8" lengthAdjust="spacingAndGlyphs" fill="#333">12,000</text>
<line x1="627.89" y1="649.5" x2="627.89" y2="651.1" stroke="#a8a8a8" stroke-width="0.6"/>
<text x="627.89" y="656.9" text-anchor="middle" font-size="5.4" textLength="14.8" lengthAdjust="spacingAndGlyphs" fill="#333">14,000</text>
<line x1="647.84" y1="649.5" x2="647.84" y2="651.1" stroke="#a8a8a8" stroke-width="0.6"/>
<text x="647.84" y="656.9" text-anchor="middle" font-size="5.4" textLength="14.8" lengthAdjust="spacingAndGlyphs" fill="#333">16,000</text>
<line x1="667.8" y1="649.5" x2="667.8" y2="651.1" stroke="#a8a8a8" stroke-width="0.6"/>
<text x="667.8" y="656.9" text-anchor="middle" font-size="5.4" textLength="14.8" lengthAdjust="spacingAndGlyphs" fill="#333">18,000</text>
<text x="584.6" y="665.4" text-anchor="middle" font-size="6.0" textLength="62" lengthAdjust="spacingAndGlyphs" fill="#333">Rank in Ordered Dataset</text>
<text transform="translate(468,522) rotate(-90)" text-anchor="middle" font-size="6.9" textLength="70" lengthAdjust="spacingAndGlyphs" fill="#555">Enrichment score (ES)</text>
<text transform="translate(477.8,622.5) rotate(-90)" text-anchor="middle" font-size="5.9" textLength="84" lengthAdjust="spacingAndGlyphs" fill="#555">Ranked list metric (Signal2Noise)</text>
<polyline points="488.2,487.4 491.1,490.3 492.8,487.8 494.4,487.4 497,489.4 498.49,489.82 498.85,488.62 499.5,489.1 501.39,487.42 502,486.1 504.69,488.69 505.4,488.6 507.99,487.23 508.7,486.1 512.9,488.6 515.29,490.38 515.65,489.18 518.89,492.16 519.6,491.9 522.19,494.53 522.55,493.33 525.5,496.5 526.19,497.59 526.55,496.39 530.99,500.96 531.35,499.76 532.2,501.2 537.99,507.6 538.35,506.4 540.49,510.1 540.85,508.9 547.3,516.3 555.79,524.75 556.15,523.55 559.1,527.2 560.49,528.75 560.85,527.55 563.89,531.05 564.25,529.85 565,531.2 565.99,532.64 566.35,531.44 572.19,537.83 572.55,536.63 575.5,540 576.25,539.76 577.69,542.23 578.05,541.03 584.19,547.06 584.55,545.86 586,547.8 589.69,551.34 590.05,550.14 593.69,554.53 594.05,553.33 594.8,554.8 596.99,556.75 597.35,555.55 599.2,557.5 600.59,558.3 600.95,557.1 602.7,558 604.59,556.92 605.3,555.7 610.6,556.2 614.19,555.28 614.55,554.08 615.8,554 619.3,550.5 622.8,546.4 625.4,547.5 628.1,549.6 629.09,548.14 629.8,546.1 632.69,546.7 633.05,545.5 634.2,546.1 636.39,544.95 636.75,543.75 638.6,542.6 639.99,542.02 640.35,540.82 643.8,538.2 646.5,540.8 648.09,536.05 648.45,534.85 649.1,532.1 651.69,530.1 652.6,528.6 656.1,525.9 656.85,524.5 659.6,518.9 661.49,520.82 662.2,520.7 664.9,511 665.99,506.1 666.35,504.9 668.4,493.5 671,486.5" fill="none" stroke="#00f000" stroke-width="1.6" stroke-linejoin="round"/>
<text x="547.5" y="607.7" class="serif" font-size="10.4" textLength="38.6" lengthAdjust="spacingAndGlyphs" fill="#3a8cc4">ES:-0.415</text>
<text x="637.7" y="501.9" class="serif" font-size="17.8" textLength="29.3" lengthAdjust="spacingAndGlyphs" fill="#3a8cc4">C -3</text>
<rect x="492.7" y="671" width="156.2" height="11.2" fill="#fff" stroke="#666" stroke-width="1.0"/>
<line x1="493.7" y1="676.7" x2="500.7" y2="676.7" stroke="#00ee00" stroke-width="1.2"/>
<text x="502.3" y="678.7" font-size="5.7" textLength="45" lengthAdjust="spacingAndGlyphs" fill="#222">Enrichment profile</text>
<line x1="550.8" y1="676.7" x2="556.5" y2="676.7" stroke="#333" stroke-width="0.8"/>
<text x="558.8" y="678.7" font-size="5.7" textLength="9.7" lengthAdjust="spacingAndGlyphs" fill="#222">Hits</text>
<line x1="582.3" y1="676.7" x2="588.5" y2="676.7" stroke="#ddd" stroke-width="0.6"/>
<text x="591.1" y="678.7" font-size="5.7" textLength="55.2" lengthAdjust="spacingAndGlyphs" fill="#222">Ranking metric scores</text>
</svg></body></html>
